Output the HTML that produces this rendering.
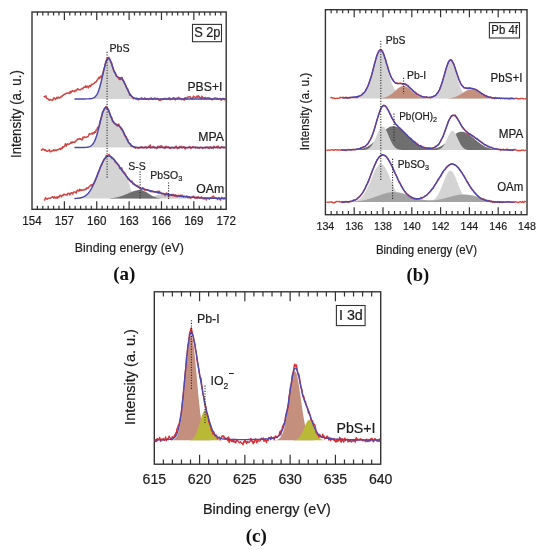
<!DOCTYPE html>
<html><head><meta charset="utf-8"><title>XPS spectra</title>
<style>
html,body{margin:0;padding:0;background:#fff;}
body{width:544px;height:550px;overflow:hidden;font-family:"Liberation Sans",sans-serif;}
svg{display:block;will-change:transform;}
text{-webkit-font-smoothing:antialiased;}
</style></head><body>
<svg width="544" height="550" viewBox="0 0 544 550">
<rect x="32.00" y="12.00" width="194.20" height="197.30" fill="none" stroke="#333333" stroke-width="1.40"/>
<path d="M64.37,12.00V20.00M64.37,209.30V201.30M96.73,12.00V20.00M96.73,209.30V201.30M129.10,12.00V20.00M129.10,209.30V201.30M161.47,12.00V20.00M161.47,209.30V201.30M193.83,12.00V20.00M193.83,209.30V201.30M37.39,12.00V15.60M37.39,209.30V205.70M42.79,12.00V15.60M42.79,209.30V205.70M48.18,12.00V15.60M48.18,209.30V205.70M53.58,12.00V15.60M53.58,209.30V205.70M58.97,12.00V15.60M58.97,209.30V205.70M69.76,12.00V15.60M69.76,209.30V205.70M75.16,12.00V15.60M75.16,209.30V205.70M80.55,12.00V15.60M80.55,209.30V205.70M85.94,12.00V15.60M85.94,209.30V205.70M91.34,12.00V15.60M91.34,209.30V205.70M102.13,12.00V15.60M102.13,209.30V205.70M107.52,12.00V15.60M107.52,209.30V205.70M112.92,12.00V15.60M112.92,209.30V205.70M118.31,12.00V15.60M118.31,209.30V205.70M123.71,12.00V15.60M123.71,209.30V205.70M134.49,12.00V15.60M134.49,209.30V205.70M139.89,12.00V15.60M139.89,209.30V205.70M145.28,12.00V15.60M145.28,209.30V205.70M150.68,12.00V15.60M150.68,209.30V205.70M156.07,12.00V15.60M156.07,209.30V205.70M166.86,12.00V15.60M166.86,209.30V205.70M172.26,12.00V15.60M172.26,209.30V205.70M177.65,12.00V15.60M177.65,209.30V205.70M183.04,12.00V15.60M183.04,209.30V205.70M188.44,12.00V15.60M188.44,209.30V205.70M199.23,12.00V15.60M199.23,209.30V205.70M204.62,12.00V15.60M204.62,209.30V205.70M210.02,12.00V15.60M210.02,209.30V205.70M215.41,12.00V15.60M215.41,209.30V205.70M220.81,12.00V15.60M220.81,209.30V205.70" stroke="#333333" stroke-width="1.20" fill="none"/>
<path d="M91.50,98.90 L91.50,98.57 L92.00,98.46 L92.50,98.32 L93.00,98.14 L93.50,97.92 L94.00,97.65 L94.50,97.31 L95.00,96.89 L95.50,96.39 L96.00,95.80 L96.50,95.09 L97.00,94.26 L97.50,93.30 L98.00,92.20 L98.50,90.95 L99.00,89.55 L99.50,88.00 L100.00,86.29 L100.50,84.45 L101.00,82.48 L101.50,80.39 L102.00,78.22 L102.50,76.00 L103.00,73.75 L103.50,71.51 L104.00,69.33 L104.50,67.25 L105.00,65.30 L105.50,63.53 L106.00,61.98 L106.50,60.69 L107.00,59.67 L107.50,58.94 L108.00,58.53 L108.50,58.43 L109.00,58.64 L109.50,59.13 L110.00,59.89 L110.50,60.89 L111.00,62.07 L111.50,63.41 L112.00,64.85 L112.50,66.35 L113.00,67.86 L113.50,69.34 L114.00,70.74 L114.50,72.04 L115.00,73.20 L115.50,74.23 L116.00,75.09 L116.50,75.80 L117.00,76.36 L117.50,76.79 L118.00,77.10 L118.50,77.34 L119.00,77.52 L119.50,77.67 L120.00,77.83 L120.50,78.02 L121.00,78.28 L121.50,78.62 L122.00,79.05 L122.50,79.59 L123.00,80.25 L123.50,81.01 L124.00,81.88 L124.50,82.84 L125.00,83.87 L125.50,84.96 L126.00,86.09 L126.50,87.23 L127.00,88.37 L127.50,89.49 L128.00,90.57 L128.50,91.60 L129.00,92.56 L129.50,93.45 L130.00,94.26 L130.50,94.98 L131.00,95.63 L131.50,96.19 L132.00,96.68 L132.50,97.10 L133.00,97.46 L133.50,97.75 L134.00,98.00 L134.50,98.20 L135.00,98.36 L135.50,98.48 L136.00,98.59 L136.00,98.90Z" fill="#d4d4d4"/>
<path d="M43.70,97.15 L44.40,96.57 L45.10,96.82 L45.80,95.82 L46.50,98.01 L47.20,98.49 L47.90,98.71 L48.60,99.64 L49.30,100.18 L50.00,99.51 L50.70,99.78 L51.40,99.97 L52.10,100.44 L52.80,100.11 L53.50,98.38 L54.20,97.83 L54.90,98.77 L55.60,99.39 L56.30,98.19 L57.00,97.30 L57.70,98.21 L58.40,97.20 L59.10,97.55 L59.80,98.03 L60.50,97.28 L61.20,96.55 L61.90,96.69 L62.60,95.42 L63.30,95.17 L64.00,94.53 L64.70,94.35 L65.40,93.79 L66.10,93.58 L66.80,93.09 L67.50,93.14 L68.20,92.93 L68.90,92.85 L69.60,93.42 L70.30,91.23 L71.00,92.62 L71.70,91.68 L72.40,90.64 L73.10,91.04 L73.80,91.17 L74.50,91.75 L75.20,90.20 L75.90,90.66 L76.60,90.54 L77.30,89.01 L78.00,88.82 L78.70,89.83 L79.40,89.86 L80.10,89.92 L80.80,89.30 L81.50,88.85 L82.20,88.33 L82.90,88.79 L83.60,87.23 L84.30,87.21 L85.00,87.39 L85.70,85.83 L86.40,87.44 L87.10,86.16 L87.80,86.30 L88.50,87.81 L89.20,85.87 L89.90,85.58 L90.60,86.63 L91.30,84.57 L92.00,84.25 L92.70,84.48 L93.40,83.95 L94.10,83.32 L94.80,82.44 L95.50,82.36 L96.20,81.63 L96.90,80.83 L97.60,79.38 L98.30,78.68 L99.00,77.31 L99.70,78.50 L100.40,76.34 L101.10,76.53 L101.80,77.04 L102.50,74.28 L103.20,72.16 L103.90,69.30 L104.60,67.33 L105.30,63.63 L106.00,61.58 L106.70,59.38 L107.40,58.09 L108.10,58.56 L108.80,57.36 L109.50,58.70 L110.20,60.29 L110.90,62.42 L111.60,62.91 L112.30,66.39 L113.00,68.30 L113.70,70.62 L114.40,71.98 L115.10,72.29 L115.80,74.08 L116.50,76.24 L117.20,76.66 L117.90,77.04 L118.60,78.65 L119.30,79.43 L120.00,78.17 L120.70,79.56 L121.40,77.41 L122.10,77.46 L122.80,80.25 L123.50,80.88 L124.20,82.64 L124.90,84.11 L125.60,85.21 L126.30,87.27 L127.00,88.58 L127.70,88.88 L128.40,91.34 L129.10,92.86 L129.80,95.27 L130.50,94.44 L131.20,95.77 L131.90,96.27 L132.60,97.02 L133.30,98.79 L134.00,98.50 L134.70,98.03 L135.40,98.52 L136.10,99.16 L136.80,98.11 L137.50,98.46 L138.20,99.86 L138.90,99.67 L139.60,99.00 L140.30,98.57 L141.00,98.72 L141.70,97.75 L142.40,99.34 L143.10,99.23 L143.80,99.06 L144.50,98.01 L145.20,98.21 L145.90,99.13 L146.60,99.13 L147.30,98.59 L148.00,99.20 L148.70,99.63 L149.40,98.56 L150.10,98.45 L150.80,98.19 L151.50,97.93 L152.20,99.27 L152.90,99.34 L153.60,99.23 L154.30,98.13 L155.00,98.00 L155.70,98.67 L156.40,98.56 L157.10,98.92 L157.80,98.41 L158.50,99.27 L159.20,100.26 L159.90,100.27 L160.60,100.32 L161.30,99.24 L162.00,99.62 L162.70,98.78 L163.40,99.53 L164.10,98.76 L164.80,98.52 L165.50,98.36 L166.20,99.29 L166.90,99.17 L167.60,99.09 L168.30,98.12 L169.00,98.84 L169.70,97.86 L170.40,99.74 L171.10,98.97 L171.80,99.05 L172.50,98.85 L173.20,97.75 L173.90,97.68 L174.60,98.61 L175.30,99.88 L176.00,98.27 L176.70,98.23 L177.40,98.68 L178.10,97.58 L178.80,97.34 L179.50,98.19 L180.20,98.60 L180.90,98.41 L181.60,99.71 L182.30,98.73 L183.00,98.86 L183.70,99.73 L184.40,99.93 L185.10,97.57 L185.80,97.90 L186.50,99.00 L187.20,97.35 L187.90,97.27 L188.60,96.92 L189.30,96.73 L190.00,96.79 L190.70,97.67 L191.40,98.56 L192.10,98.86 L192.80,97.78 L193.50,96.10 L194.20,97.09 L194.90,97.05 L195.60,97.52 L196.30,97.25 L197.00,96.01 L197.70,97.34 L198.40,95.86 L199.10,96.57 L199.80,97.47 L200.50,97.72 L201.20,98.69 L201.90,96.14 L202.60,97.62 L203.30,98.23 L204.00,97.70 L204.70,98.35 L205.40,97.31 L206.10,98.43 L206.80,98.63 L207.50,97.65 L208.20,97.74 L208.90,98.15 L209.60,97.96 L210.30,99.17 L211.00,98.84 L211.70,99.62 L212.40,99.71 L213.10,98.97 L213.80,98.66 L214.50,98.08 L215.20,98.09 L215.90,98.10 L216.60,98.94 L217.30,98.24 L218.00,98.79 L218.70,98.99 L219.40,98.55 L220.10,98.68 L220.80,99.88 L221.50,100.24 L222.20,98.60 L222.90,98.70 L223.60,98.59 L224.30,98.64 L225.00,99.94 L225.70,99.60" fill="none" stroke="#cc4644" stroke-width="1.50" stroke-linejoin="round"/>
<path d="M75.00,98.90 L75.50,98.90 L76.00,98.90 L76.50,98.90 L77.00,98.90 L77.50,98.90 L78.00,98.90 L78.50,98.90 L79.00,98.90 L79.50,98.90 L80.00,98.90 L80.50,98.90 L81.00,98.90 L81.50,98.90 L82.00,98.90 L82.50,98.90 L83.00,98.90 L83.50,98.90 L84.00,98.90 L84.50,98.90 L85.00,98.90 L85.50,98.89 L86.00,98.89 L86.50,98.89 L87.00,98.88 L87.50,98.87 L88.00,98.86 L88.50,98.85 L89.00,98.83 L89.50,98.80 L90.00,98.76 L90.50,98.72 L91.00,98.65 L91.50,98.57 L92.00,98.46 L92.50,98.32 L93.00,98.14 L93.50,97.92 L94.00,97.65 L94.50,97.31 L95.00,96.89 L95.50,96.39 L96.00,95.80 L96.50,95.09 L97.00,94.26 L97.50,93.30 L98.00,92.20 L98.50,90.95 L99.00,89.55 L99.50,88.00 L100.00,86.29 L100.50,84.45 L101.00,82.48 L101.50,80.39 L102.00,78.22 L102.50,76.00 L103.00,73.75 L103.50,71.51 L104.00,69.33 L104.50,67.25 L105.00,65.30 L105.50,63.53 L106.00,61.98 L106.50,60.69 L107.00,59.67 L107.50,58.94 L108.00,58.53 L108.50,58.43 L109.00,58.64 L109.50,59.13 L110.00,59.89 L110.50,60.89 L111.00,62.07 L111.50,63.41 L112.00,64.85 L112.50,66.35 L113.00,67.86 L113.50,69.34 L114.00,70.74 L114.50,72.04 L115.00,73.20 L115.50,74.23 L116.00,75.09 L116.50,75.80 L117.00,76.36 L117.50,76.79 L118.00,77.10 L118.50,77.34 L119.00,77.52 L119.50,77.67 L120.00,77.83 L120.50,78.02 L121.00,78.28 L121.50,78.62 L122.00,79.05 L122.50,79.59 L123.00,80.25 L123.50,81.01 L124.00,81.88 L124.50,82.84 L125.00,83.87 L125.50,84.96 L126.00,86.09 L126.50,87.23 L127.00,88.37 L127.50,89.49 L128.00,90.57 L128.50,91.60 L129.00,92.56 L129.50,93.45 L130.00,94.26 L130.50,94.98 L131.00,95.63 L131.50,96.19 L132.00,96.68 L132.50,97.10 L133.00,97.46 L133.50,97.75 L134.00,98.00 L134.50,98.20 L135.00,98.36 L135.50,98.48 L136.00,98.59 L136.50,98.66 L137.00,98.72 L137.50,98.77 L138.00,98.81 L138.50,98.83 L139.00,98.85 L139.50,98.87 L140.00,98.88 L140.50,98.88 L141.00,98.89 L141.50,98.89 L142.00,98.89 L142.50,98.90 L143.00,98.90 L143.50,98.90 L144.00,98.90 L144.50,98.90 L145.00,98.90 L145.50,98.90 L146.00,98.90 L146.50,98.90 L147.00,98.90 L147.50,98.90 L148.00,98.90 L148.50,98.90 L149.00,98.90 L149.50,98.90 L150.00,98.90 L150.50,98.90 L151.00,98.90 L151.50,98.90 L152.00,98.90 L152.50,98.90 L153.00,98.90 L153.50,98.90 L154.00,98.90 L154.50,98.90 L155.00,98.90 L155.50,98.90 L156.00,98.90 L156.50,98.90 L157.00,98.90 L157.50,98.90 L158.00,98.90 L158.50,98.90 L159.00,98.90 L159.50,98.90 L160.00,98.90 L160.50,98.90 L161.00,98.90 L161.50,98.90 L162.00,98.90 L162.50,98.90 L163.00,98.90 L163.50,98.90 L164.00,98.90 L164.50,98.90 L165.00,98.90 L165.50,98.90 L166.00,98.90 L166.50,98.90 L167.00,98.90 L167.50,98.90 L168.00,98.90 L168.50,98.90 L169.00,98.90 L169.50,98.90 L170.00,98.90 L170.50,98.90 L171.00,98.90 L171.50,98.90 L172.00,98.90 L172.50,98.90 L173.00,98.90 L173.50,98.90 L174.00,98.90 L174.50,98.90 L175.00,98.90 L175.50,98.90 L176.00,98.90 L176.50,98.90 L177.00,98.90 L177.50,98.90 L178.00,98.90 L178.50,98.90 L179.00,98.90 L179.50,98.90 L180.00,98.90 L180.50,98.90 L181.00,98.90 L181.50,98.90 L182.00,98.90 L182.50,98.90 L183.00,98.90 L183.50,98.90 L184.00,98.90 L184.50,98.90 L185.00,98.90 L185.50,98.90 L186.00,98.90 L186.50,98.90 L187.00,98.90 L187.50,98.90 L188.00,98.90 L188.50,98.90 L189.00,98.90 L189.50,98.90 L190.00,98.90 L190.50,98.90 L191.00,98.90 L191.50,98.90 L192.00,98.90 L192.50,98.90 L193.00,98.90 L193.50,98.90 L194.00,98.90 L194.50,98.90 L195.00,98.90 L195.50,98.90 L196.00,98.90 L196.50,98.90 L197.00,98.90 L197.50,98.90 L198.00,98.90 L198.50,98.90 L199.00,98.90 L199.50,98.90 L200.00,98.90 L200.50,98.90 L201.00,98.90 L201.50,98.90 L202.00,98.90 L202.50,98.90 L203.00,98.90 L203.50,98.90 L204.00,98.90 L204.50,98.90 L205.00,98.90 L205.50,98.90 L206.00,98.90 L206.50,98.90 L207.00,98.90 L207.50,98.90 L208.00,98.90 L208.50,98.90 L209.00,98.90 L209.50,98.90 L210.00,98.90 L210.50,98.90 L211.00,98.90 L211.50,98.90 L212.00,98.90 L212.50,98.90 L213.00,98.90 L213.50,98.90 L214.00,98.90 L214.50,98.90 L215.00,98.90 L215.50,98.90 L216.00,98.90 L216.50,98.90 L217.00,98.90 L217.50,98.90 L218.00,98.90 L218.50,98.90 L219.00,98.90 L219.50,98.90 L220.00,98.90 L220.50,98.90 L221.00,98.90 L221.50,98.90 L222.00,98.90 L222.50,98.90 L223.00,98.90 L223.50,98.90 L224.00,98.90 L224.50,98.90 L225.00,98.90 L225.50,98.90" fill="none" stroke="#4b48aa" stroke-width="1.45" stroke-linejoin="round" stroke-linecap="round"/>
<path d="M88.00,147.50 L88.00,147.11 L88.50,146.99 L89.00,146.85 L89.50,146.67 L90.00,146.45 L90.50,146.18 L91.00,145.85 L91.50,145.46 L92.00,145.00 L92.50,144.44 L93.00,143.80 L93.50,143.05 L94.00,142.20 L94.50,141.22 L95.00,140.12 L95.50,138.89 L96.00,137.53 L96.50,136.04 L97.00,134.42 L97.50,132.69 L98.00,130.85 L98.50,128.92 L99.00,126.93 L99.50,124.88 L100.00,122.82 L100.50,120.76 L101.00,118.75 L101.50,116.81 L102.00,114.98 L102.50,113.28 L103.00,111.76 L103.50,110.44 L104.00,109.34 L104.50,108.48 L105.00,107.87 L105.50,107.53 L106.00,107.44 L106.50,107.61 L107.00,108.02 L107.50,108.65 L108.00,109.47 L108.50,110.46 L109.00,111.58 L109.50,112.79 L110.00,114.07 L110.50,115.37 L111.00,116.66 L111.50,117.90 L112.00,119.08 L112.50,120.17 L113.00,121.15 L113.50,122.01 L114.00,122.75 L114.50,123.36 L115.00,123.87 L115.50,124.27 L116.00,124.60 L116.50,124.85 L117.00,125.07 L117.50,125.27 L118.00,125.47 L118.50,125.70 L119.00,125.97 L119.50,126.31 L120.00,126.73 L120.50,127.23 L121.00,127.82 L121.50,128.50 L122.00,129.28 L122.50,130.13 L123.00,131.06 L123.50,132.05 L124.00,133.08 L124.50,134.14 L125.00,135.22 L125.50,136.30 L126.00,137.36 L126.50,138.40 L127.00,139.39 L127.50,140.33 L128.00,141.22 L128.50,142.03 L129.00,142.78 L129.50,143.46 L130.00,144.07 L130.50,144.61 L131.00,145.09 L131.50,145.50 L132.00,145.86 L132.50,146.16 L133.00,146.42 L133.50,146.63 L134.00,146.81 L134.50,146.96 L135.00,147.07 L135.50,147.17 L135.50,147.50Z" fill="#d4d4d4"/>
<path d="M41.00,149.57 L41.70,150.29 L42.40,149.04 L43.10,149.11 L43.80,149.43 L44.50,150.32 L45.20,149.87 L45.90,150.44 L46.60,151.07 L47.30,151.35 L48.00,151.07 L48.70,150.31 L49.40,149.79 L50.10,151.70 L50.80,151.77 L51.50,150.98 L52.20,150.98 L52.90,150.83 L53.60,149.78 L54.30,150.74 L55.00,150.04 L55.70,150.07 L56.40,150.57 L57.10,149.83 L57.80,149.87 L58.50,149.54 L59.20,148.96 L59.90,148.60 L60.60,149.50 L61.30,147.99 L62.00,148.66 L62.70,146.75 L63.40,147.23 L64.10,146.65 L64.80,145.63 L65.50,143.82 L66.20,146.12 L66.90,144.39 L67.60,143.90 L68.30,144.30 L69.00,144.09 L69.70,143.95 L70.40,143.31 L71.10,142.08 L71.80,143.23 L72.50,141.98 L73.20,142.27 L73.90,142.33 L74.60,142.52 L75.30,141.34 L76.00,140.79 L76.70,140.52 L77.40,139.12 L78.10,139.37 L78.80,139.02 L79.50,138.63 L80.20,139.24 L80.90,138.81 L81.60,139.82 L82.30,139.73 L83.00,137.14 L83.70,137.79 L84.40,136.90 L85.10,137.55 L85.80,137.15 L86.50,137.36 L87.20,136.72 L87.90,136.65 L88.60,135.65 L89.30,133.67 L90.00,133.94 L90.70,133.97 L91.40,133.77 L92.10,132.94 L92.80,134.19 L93.50,132.76 L94.20,133.07 L94.90,131.58 L95.60,132.24 L96.30,129.71 L97.00,129.50 L97.70,127.22 L98.40,127.09 L99.10,126.78 L99.80,122.38 L100.50,119.96 L101.20,118.06 L101.90,115.21 L102.60,111.98 L103.30,111.52 L104.00,109.42 L104.70,108.96 L105.40,107.72 L106.10,106.44 L106.80,107.11 L107.50,109.37 L108.20,109.00 L108.90,110.85 L109.60,113.36 L110.30,115.62 L111.00,117.39 L111.70,117.51 L112.40,121.23 L113.10,121.47 L113.80,122.50 L114.50,123.37 L115.20,123.88 L115.90,123.83 L116.60,124.53 L117.30,126.03 L118.00,124.69 L118.70,123.96 L119.40,126.24 L120.10,127.06 L120.80,128.13 L121.50,129.81 L122.20,129.37 L122.90,130.94 L123.60,132.61 L124.30,134.64 L125.00,136.12 L125.70,136.32 L126.40,137.16 L127.10,139.19 L127.80,139.67 L128.50,142.56 L129.20,142.90 L129.90,143.68 L130.60,144.04 L131.30,146.27 L132.00,146.24 L132.70,146.06 L133.40,146.98 L134.10,146.86 L134.80,147.45 L135.50,148.17 L136.20,147.29 L136.90,147.70 L137.60,147.80 L138.30,148.30 L139.00,148.04 L139.70,147.61 L140.40,147.06 L141.10,147.61 L141.80,146.79 L142.50,147.81 L143.20,147.60 L143.90,147.90 L144.60,147.22 L145.30,146.89 L146.00,146.74 L146.70,148.12 L147.40,147.47 L148.10,147.33 L148.80,146.22 L149.50,147.21 L150.20,145.04 L150.90,147.95 L151.60,147.42 L152.30,147.50 L153.00,146.51 L153.70,146.54 L154.40,147.73 L155.10,147.40 L155.80,147.78 L156.50,148.44 L157.20,148.15 L157.90,146.31 L158.60,146.58 L159.30,146.53 L160.00,146.67 L160.70,145.89 L161.40,145.75 L162.10,146.63 L162.80,146.91 L163.50,147.74 L164.20,147.32 L164.90,148.45 L165.60,146.42 L166.30,146.32 L167.00,147.44 L167.70,147.30 L168.40,146.77 L169.10,147.89 L169.80,148.33 L170.50,148.58 L171.20,147.44 L171.90,147.48 L172.60,147.65 L173.30,147.57 L174.00,148.22 L174.70,147.30 L175.40,147.72 L176.10,146.01 L176.80,147.72 L177.50,148.68 L178.20,147.72 L178.90,148.26 L179.60,146.50 L180.30,147.07 L181.00,146.34 L181.70,147.49 L182.40,147.86 L183.10,146.62 L183.80,146.73 L184.50,146.94 L185.20,149.07 L185.90,147.76 L186.60,147.63 L187.30,147.78 L188.00,147.76 L188.70,147.39 L189.40,146.55 L190.10,146.84 L190.80,148.50 L191.50,147.88 L192.20,147.32 L192.90,146.52 L193.60,147.26 L194.30,147.47 L195.00,147.04 L195.70,148.03 L196.40,147.20 L197.10,147.32 L197.80,148.05 L198.50,147.76 L199.20,148.33 L199.90,147.51 L200.60,147.20 L201.30,147.76 L202.00,147.70 L202.70,148.36 L203.40,147.95 L204.10,147.57 L204.80,147.83 L205.50,148.02 L206.20,146.83 L206.90,147.27 L207.60,147.22 L208.30,148.28 L209.00,147.32 L209.70,148.20 L210.40,146.76 L211.10,147.31 L211.80,148.20 L212.50,147.46 L213.20,148.29 L213.90,146.25 L214.60,147.27 L215.30,147.57 L216.00,147.43 L216.70,146.44 L217.40,147.75 L218.10,145.93 L218.80,147.85 L219.50,147.77 L220.20,148.24 L220.90,147.47 L221.60,146.72 L222.30,146.99 L223.00,147.08 L223.70,147.83 L224.40,147.35 L225.10,147.76" fill="none" stroke="#cc4644" stroke-width="1.50" stroke-linejoin="round"/>
<path d="M75.00,147.50 L75.50,147.50 L76.00,147.50 L76.50,147.50 L77.00,147.50 L77.50,147.50 L78.00,147.50 L78.50,147.50 L79.00,147.50 L79.50,147.50 L80.00,147.50 L80.50,147.50 L81.00,147.50 L81.50,147.49 L82.00,147.49 L82.50,147.49 L83.00,147.48 L83.50,147.47 L84.00,147.46 L84.50,147.45 L85.00,147.43 L85.50,147.40 L86.00,147.37 L86.50,147.33 L87.00,147.27 L87.50,147.20 L88.00,147.11 L88.50,146.99 L89.00,146.85 L89.50,146.67 L90.00,146.45 L90.50,146.18 L91.00,145.85 L91.50,145.46 L92.00,145.00 L92.50,144.44 L93.00,143.80 L93.50,143.05 L94.00,142.20 L94.50,141.22 L95.00,140.12 L95.50,138.89 L96.00,137.53 L96.50,136.04 L97.00,134.42 L97.50,132.69 L98.00,130.85 L98.50,128.92 L99.00,126.93 L99.50,124.88 L100.00,122.82 L100.50,120.76 L101.00,118.75 L101.50,116.81 L102.00,114.98 L102.50,113.28 L103.00,111.76 L103.50,110.44 L104.00,109.34 L104.50,108.48 L105.00,107.87 L105.50,107.53 L106.00,107.44 L106.50,107.61 L107.00,108.02 L107.50,108.65 L108.00,109.47 L108.50,110.46 L109.00,111.58 L109.50,112.79 L110.00,114.07 L110.50,115.37 L111.00,116.66 L111.50,117.90 L112.00,119.08 L112.50,120.17 L113.00,121.15 L113.50,122.01 L114.00,122.75 L114.50,123.36 L115.00,123.87 L115.50,124.27 L116.00,124.60 L116.50,124.85 L117.00,125.07 L117.50,125.27 L118.00,125.47 L118.50,125.70 L119.00,125.97 L119.50,126.31 L120.00,126.73 L120.50,127.23 L121.00,127.82 L121.50,128.50 L122.00,129.28 L122.50,130.13 L123.00,131.06 L123.50,132.05 L124.00,133.08 L124.50,134.14 L125.00,135.22 L125.50,136.30 L126.00,137.36 L126.50,138.40 L127.00,139.39 L127.50,140.33 L128.00,141.22 L128.50,142.03 L129.00,142.78 L129.50,143.46 L130.00,144.07 L130.50,144.61 L131.00,145.09 L131.50,145.50 L132.00,145.86 L132.50,146.16 L133.00,146.42 L133.50,146.63 L134.00,146.81 L134.50,146.96 L135.00,147.07 L135.50,147.17 L136.00,147.25 L136.50,147.31 L137.00,147.35 L137.50,147.39 L138.00,147.42 L138.50,147.44 L139.00,147.46 L139.50,147.47 L140.00,147.48 L140.50,147.48 L141.00,147.49 L141.50,147.49 L142.00,147.49 L142.50,147.50 L143.00,147.50 L143.50,147.50 L144.00,147.50 L144.50,147.50 L145.00,147.50 L145.50,147.50 L146.00,147.50 L146.50,147.50 L147.00,147.50 L147.50,147.50 L148.00,147.50 L148.50,147.50 L149.00,147.50 L149.50,147.50 L150.00,147.50 L150.50,147.50 L151.00,147.50 L151.50,147.50 L152.00,147.50 L152.50,147.50 L153.00,147.50 L153.50,147.50 L154.00,147.50 L154.50,147.50 L155.00,147.50 L155.50,147.50 L156.00,147.50 L156.50,147.50 L157.00,147.50 L157.50,147.50 L158.00,147.50 L158.50,147.50 L159.00,147.50 L159.50,147.50 L160.00,147.50 L160.50,147.50 L161.00,147.50 L161.50,147.50 L162.00,147.50 L162.50,147.50 L163.00,147.50 L163.50,147.50 L164.00,147.50 L164.50,147.50 L165.00,147.50 L165.50,147.50 L166.00,147.50 L166.50,147.50 L167.00,147.50 L167.50,147.50 L168.00,147.50 L168.50,147.50 L169.00,147.50 L169.50,147.50 L170.00,147.50 L170.50,147.50 L171.00,147.50 L171.50,147.50 L172.00,147.50 L172.50,147.50 L173.00,147.50 L173.50,147.50 L174.00,147.50 L174.50,147.50 L175.00,147.50 L175.50,147.50 L176.00,147.50 L176.50,147.50 L177.00,147.50 L177.50,147.50 L178.00,147.50 L178.50,147.50 L179.00,147.50 L179.50,147.50 L180.00,147.50 L180.50,147.50 L181.00,147.50 L181.50,147.50 L182.00,147.50 L182.50,147.50 L183.00,147.50 L183.50,147.50 L184.00,147.50 L184.50,147.50 L185.00,147.50 L185.50,147.50 L186.00,147.50 L186.50,147.50 L187.00,147.50 L187.50,147.50 L188.00,147.50 L188.50,147.50 L189.00,147.50 L189.50,147.50 L190.00,147.50 L190.50,147.50 L191.00,147.50 L191.50,147.50 L192.00,147.50 L192.50,147.50 L193.00,147.50 L193.50,147.50 L194.00,147.50 L194.50,147.50 L195.00,147.50 L195.50,147.50 L196.00,147.50 L196.50,147.50 L197.00,147.50 L197.50,147.50 L198.00,147.50 L198.50,147.50 L199.00,147.50 L199.50,147.50 L200.00,147.50 L200.50,147.50 L201.00,147.50 L201.50,147.50 L202.00,147.50 L202.50,147.50 L203.00,147.50 L203.50,147.50 L204.00,147.50 L204.50,147.50 L205.00,147.50 L205.50,147.50 L206.00,147.50 L206.50,147.50 L207.00,147.50 L207.50,147.50 L208.00,147.50 L208.50,147.50 L209.00,147.50 L209.50,147.50 L210.00,147.50 L210.50,147.50 L211.00,147.50 L211.50,147.50 L212.00,147.50 L212.50,147.50 L213.00,147.50 L213.50,147.50 L214.00,147.50 L214.50,147.50 L215.00,147.50 L215.50,147.50 L216.00,147.50 L216.50,147.50 L217.00,147.50 L217.50,147.50 L218.00,147.50 L218.50,147.50 L219.00,147.50 L219.50,147.50 L220.00,147.50 L220.50,147.50 L221.00,147.50 L221.50,147.50 L222.00,147.50 L222.50,147.50 L223.00,147.50 L223.50,147.50 L224.00,147.50 L224.50,147.50 L225.00,147.50 L225.50,147.50" fill="none" stroke="#4b48aa" stroke-width="1.45" stroke-linejoin="round" stroke-linecap="round"/>
<path d="M76.50,198.60 L76.50,198.27 L77.00,198.22 L77.50,198.16 L78.00,198.09 L78.50,198.01 L79.00,197.92 L79.50,197.82 L80.00,197.71 L80.50,197.58 L81.00,197.44 L81.50,197.28 L82.00,197.11 L82.50,196.91 L83.00,196.69 L83.50,196.45 L84.00,196.19 L84.50,195.90 L85.00,195.58 L85.50,195.23 L86.00,194.84 L86.50,194.43 L87.00,193.97 L87.50,193.49 L88.00,192.96 L88.50,192.39 L89.00,191.78 L89.50,191.13 L90.00,190.43 L90.50,189.69 L91.00,188.91 L91.50,188.08 L92.00,187.20 L92.50,186.29 L93.00,185.33 L93.50,184.32 L94.00,183.28 L94.50,182.19 L95.00,181.07 L95.50,179.92 L96.00,178.74 L96.50,177.53 L97.00,176.30 L97.50,175.05 L98.00,173.79 L98.50,172.52 L99.00,171.25 L99.50,169.98 L100.00,168.73 L100.50,167.49 L101.00,166.27 L101.50,165.08 L102.00,163.93 L102.50,162.82 L103.00,161.77 L103.50,160.76 L104.00,159.82 L104.50,158.95 L105.00,158.15 L105.50,157.43 L106.00,156.79 L106.50,156.24 L107.00,155.79 L107.50,155.42 L108.00,155.16 L108.50,154.99 L109.00,154.92 L109.50,154.95 L110.00,155.09 L110.50,155.32 L111.00,155.65 L111.50,156.07 L112.00,156.58 L112.50,157.18 L113.00,157.86 L113.50,158.61 L114.00,159.43 L114.50,160.30 L115.00,161.22 L115.50,162.16 L116.00,163.12 L116.50,164.07 L117.00,165.00 L117.50,165.89 L118.00,166.72 L118.50,167.46 L119.00,168.11 L119.50,168.66 L120.00,169.09 L120.50,169.40 L121.00,169.62 L121.50,169.77 L122.00,169.86 L122.50,169.94 L123.00,170.06 L123.50,170.25 L124.00,170.57 L124.50,171.04 L125.00,171.71 L125.50,172.58 L126.00,173.66 L126.50,174.95 L127.00,176.42 L127.50,178.03 L128.00,179.75 L128.50,181.53 L129.00,183.31 L129.50,185.05 L130.00,186.72 L130.50,188.28 L131.00,189.71 L131.50,190.99 L132.00,192.13 L132.50,193.11 L133.00,193.96 L133.50,194.68 L134.00,195.28 L134.50,195.79 L135.00,196.21 L135.50,196.56 L136.00,196.86 L136.50,197.10 L137.00,197.31 L137.50,197.49 L138.00,197.64 L138.50,197.77 L139.00,197.88 L139.50,197.98 L140.00,198.06 L140.50,198.13 L141.00,198.20 L141.50,198.25 L141.50,198.60Z" fill="#d4d4d4"/>
<path d="M140.50,198.60 L140.50,198.29 L141.00,198.25 L141.50,198.21 L142.00,198.17 L142.50,198.13 L143.00,198.08 L143.50,198.03 L144.00,197.98 L144.50,197.92 L145.00,197.86 L145.50,197.79 L146.00,197.72 L146.50,197.64 L147.00,197.57 L147.50,197.48 L148.00,197.39 L148.50,197.30 L149.00,197.21 L149.50,197.11 L150.00,197.00 L150.50,196.90 L151.00,196.78 L151.50,196.67 L152.00,196.55 L152.50,196.43 L153.00,196.31 L153.50,196.19 L154.00,196.06 L154.50,195.94 L155.00,195.81 L155.50,195.68 L156.00,195.56 L156.50,195.43 L157.00,195.31 L157.50,195.19 L158.00,195.07 L158.50,194.95 L159.00,194.84 L159.50,194.74 L160.00,194.64 L160.50,194.54 L161.00,194.45 L161.50,194.37 L162.00,194.29 L162.50,194.23 L163.00,194.17 L163.50,194.12 L164.00,194.08 L164.50,194.04 L165.00,194.02 L165.50,194.00 L166.00,194.00 L166.50,194.00 L167.00,194.02 L167.50,194.04 L168.00,194.08 L168.50,194.12 L169.00,194.17 L169.50,194.23 L170.00,194.29 L170.50,194.37 L171.00,194.45 L171.50,194.54 L172.00,194.64 L172.50,194.74 L173.00,194.84 L173.50,194.95 L174.00,195.07 L174.50,195.19 L175.00,195.31 L175.50,195.43 L176.00,195.56 L176.50,195.68 L177.00,195.81 L177.50,195.94 L178.00,196.06 L178.50,196.19 L179.00,196.31 L179.50,196.43 L180.00,196.55 L180.50,196.67 L181.00,196.78 L181.50,196.90 L182.00,197.00 L182.50,197.11 L183.00,197.21 L183.50,197.30 L184.00,197.39 L184.50,197.48 L185.00,197.57 L185.50,197.64 L186.00,197.72 L186.50,197.79 L187.00,197.86 L187.50,197.92 L188.00,197.98 L188.50,198.03 L189.00,198.08 L189.50,198.13 L190.00,198.17 L190.50,198.21 L191.00,198.25 L191.50,198.29 L191.50,198.60Z" fill="#c8c8c8"/>
<path d="M109.50,198.60 L109.50,198.27 L110.00,198.24 L110.50,198.20 L111.00,198.15 L111.50,198.11 L112.00,198.06 L112.50,198.00 L113.00,197.94 L113.50,197.88 L114.00,197.81 L114.50,197.73 L115.00,197.65 L115.50,197.57 L116.00,197.47 L116.50,197.38 L117.00,197.27 L117.50,197.16 L118.00,197.05 L118.50,196.92 L119.00,196.79 L119.50,196.66 L120.00,196.51 L120.50,196.37 L121.00,196.21 L121.50,196.05 L122.00,195.88 L122.50,195.70 L123.00,195.52 L123.50,195.33 L124.00,195.14 L124.50,194.95 L125.00,194.74 L125.50,194.54 L126.00,194.33 L126.50,194.12 L127.00,193.90 L127.50,193.69 L128.00,193.47 L128.50,193.25 L129.00,193.04 L129.50,192.82 L130.00,192.61 L130.50,192.40 L131.00,192.19 L131.50,191.99 L132.00,191.79 L132.50,191.60 L133.00,191.42 L133.50,191.24 L134.00,191.07 L134.50,190.92 L135.00,190.77 L135.50,190.63 L136.00,190.51 L136.50,190.40 L137.00,190.30 L137.50,190.21 L138.00,190.14 L138.50,190.09 L139.00,190.04 L139.50,190.01 L140.00,190.00 L140.50,190.01 L141.00,190.04 L141.50,190.11 L142.00,190.21 L142.50,190.35 L143.00,190.51 L143.50,190.70 L144.00,190.92 L144.50,191.16 L145.00,191.42 L145.50,191.69 L146.00,191.99 L146.50,192.29 L147.00,192.61 L147.50,192.93 L148.00,193.25 L148.50,193.58 L149.00,193.90 L149.50,194.22 L150.00,194.54 L150.50,194.85 L151.00,195.14 L151.50,195.43 L152.00,195.70 L152.50,195.96 L153.00,196.21 L153.50,196.44 L154.00,196.66 L154.50,196.86 L155.00,197.05 L155.50,197.22 L156.00,197.38 L156.50,197.52 L157.00,197.65 L157.50,197.77 L158.00,197.88 L158.50,197.97 L159.00,198.06 L159.50,198.13 L160.00,198.20 L160.50,198.26 L160.50,198.60Z" fill="#6e6e6e"/>
<path d="M44.00,199.52 L44.70,200.08 L45.40,197.86 L46.10,198.36 L46.80,199.09 L47.50,199.15 L48.20,198.24 L48.90,198.16 L49.60,198.17 L50.30,198.20 L51.00,197.61 L51.70,197.31 L52.40,196.80 L53.10,197.05 L53.80,198.13 L54.50,196.68 L55.20,197.52 L55.90,198.22 L56.60,197.11 L57.30,198.19 L58.00,196.65 L58.70,197.42 L59.40,196.34 L60.10,195.24 L60.80,195.90 L61.50,196.91 L62.20,195.34 L62.90,195.59 L63.60,194.53 L64.30,194.25 L65.00,194.94 L65.70,194.52 L66.40,194.79 L67.10,195.15 L67.80,193.45 L68.50,193.27 L69.20,193.55 L69.90,194.94 L70.60,193.31 L71.30,192.72 L72.00,193.04 L72.70,194.04 L73.40,192.31 L74.10,191.99 L74.80,191.99 L75.50,192.29 L76.20,193.13 L76.90,190.89 L77.60,190.01 L78.30,190.88 L79.00,191.15 L79.70,189.23 L80.40,189.76 L81.10,190.74 L81.80,189.81 L82.50,190.13 L83.20,189.84 L83.90,189.94 L84.60,189.66 L85.30,189.26 L86.00,189.52 L86.70,188.10 L87.40,187.97 L88.10,188.32 L88.80,186.98 L89.50,186.55 L90.20,185.80 L90.90,184.81 L91.60,185.91 L92.30,184.50 L93.00,184.64 L93.70,183.39 L94.40,181.99 L95.10,180.50 L95.80,179.29 L96.50,177.30 L97.20,176.08 L97.90,173.20 L98.60,171.84 L99.30,170.32 L100.00,168.15 L100.70,166.36 L101.40,165.23 L102.10,163.80 L102.80,161.97 L103.50,160.66 L104.20,159.12 L104.90,158.72 L105.60,157.43 L106.30,155.53 L107.00,155.38 L107.70,155.54 L108.40,155.20 L109.10,154.48 L109.80,155.77 L110.50,156.44 L111.20,157.13 L111.90,158.43 L112.60,158.04 L113.30,159.18 L114.00,159.47 L114.70,161.02 L115.40,162.14 L116.10,162.65 L116.80,163.67 L117.50,163.61 L118.20,165.31 L118.90,165.23 L119.60,168.20 L120.30,168.90 L121.00,168.06 L121.70,167.92 L122.40,171.26 L123.10,171.28 L123.80,172.96 L124.50,172.84 L125.20,174.46 L125.90,175.05 L126.60,176.71 L127.30,177.13 L128.00,179.10 L128.70,178.69 L129.40,180.60 L130.10,180.75 L130.80,181.72 L131.50,181.09 L132.20,181.40 L132.90,183.81 L133.60,183.26 L134.30,184.18 L135.00,184.78 L135.70,184.90 L136.40,186.00 L137.10,185.48 L137.80,185.82 L138.50,187.55 L139.20,187.01 L139.90,188.15 L140.60,188.54 L141.30,189.38 L142.00,189.03 L142.70,187.64 L143.40,188.30 L144.10,188.75 L144.80,190.07 L145.50,189.90 L146.20,189.46 L146.90,190.12 L147.60,189.87 L148.30,190.55 L149.00,190.57 L149.70,191.33 L150.40,191.11 L151.10,191.64 L151.80,191.21 L152.50,191.74 L153.20,191.41 L153.90,192.00 L154.60,191.97 L155.30,191.87 L156.00,191.78 L156.70,191.99 L157.40,192.65 L158.10,191.08 L158.80,193.22 L159.50,191.39 L160.20,192.58 L160.90,192.84 L161.60,193.72 L162.30,193.67 L163.00,193.59 L163.70,193.77 L164.40,194.47 L165.10,195.64 L165.80,194.68 L166.50,192.98 L167.20,193.82 L167.90,194.63 L168.60,196.79 L169.30,194.63 L170.00,194.55 L170.70,195.23 L171.40,195.29 L172.10,194.30 L172.80,195.68 L173.50,194.54 L174.20,195.08 L174.90,196.31 L175.60,194.89 L176.30,195.32 L177.00,196.80 L177.70,195.89 L178.40,195.26 L179.10,195.50 L179.80,196.55 L180.50,195.23 L181.20,195.65 L181.90,195.25 L182.60,195.42 L183.30,197.12 L184.00,196.62 L184.70,196.34 L185.40,196.90 L186.10,196.32 L186.80,195.93 L187.50,197.45 L188.20,197.63 L188.90,196.57 L189.60,197.43 L190.30,198.15 L191.00,197.70 L191.70,197.66 L192.40,196.54 L193.10,197.09 L193.80,196.10 L194.50,197.90 L195.20,197.46 L195.90,198.39 L196.60,197.23 L197.30,198.12 L198.00,196.71 L198.70,197.24 L199.40,198.01 L200.10,198.07 L200.80,197.83 L201.50,196.77 L202.20,198.55 L202.90,198.49 L203.60,198.82 L204.30,198.91 L205.00,197.95 L205.70,198.29 L206.40,199.88 L207.10,197.91 L207.80,198.36 L208.50,197.83 L209.20,199.28 L209.90,198.54 L210.60,197.60 L211.30,197.72 L212.00,197.23 L212.70,196.56 L213.40,196.16 L214.10,197.41 L214.80,197.40 L215.50,198.27 L216.20,197.80 L216.90,198.42 L217.60,199.58 L218.30,197.86 L219.00,197.51 L219.70,198.90 L220.40,200.10 L221.10,198.20 L221.80,197.29 L222.50,198.04 L223.20,198.13 L223.90,198.89 L224.60,197.87 L225.30,198.20" fill="none" stroke="#cc4644" stroke-width="1.50" stroke-linejoin="round"/>
<path d="M75.00,198.44 L75.50,198.41 L76.00,198.38 L76.50,198.35 L77.00,198.31 L77.50,198.27 L78.00,198.21 L78.50,198.15 L79.00,198.09 L79.50,198.01 L80.00,197.92 L80.50,197.81 L81.00,197.70 L81.50,197.56 L82.00,197.41 L82.50,197.24 L83.00,197.05 L83.50,196.83 L84.00,196.59 L84.50,196.32 L85.00,196.03 L85.50,195.69 L86.00,195.33 L86.50,194.92 L87.00,194.48 L87.50,194.00 L88.00,193.47 L88.50,192.90 L89.00,192.28 L89.50,191.61 L90.00,190.89 L90.50,190.12 L91.00,189.29 L91.50,188.42 L92.00,187.50 L92.50,186.52 L93.00,185.50 L93.50,184.43 L94.00,183.32 L94.50,182.16 L95.00,180.97 L95.50,179.74 L96.00,178.49 L96.50,177.21 L97.00,175.92 L97.50,174.61 L98.00,173.30 L98.50,171.99 L99.00,170.69 L99.50,169.41 L100.00,168.15 L100.50,166.92 L101.00,165.73 L101.50,164.59 L102.00,163.50 L102.50,162.46 L103.00,161.49 L103.50,160.59 L104.00,159.77 L104.50,159.02 L105.00,158.35 L105.50,157.77 L106.00,157.27 L106.50,156.86 L107.00,156.53 L107.50,156.29 L108.00,156.13 L108.50,156.06 L109.00,156.06 L109.50,156.14 L110.00,156.29 L110.50,156.51 L111.00,156.79 L111.50,157.12 L112.00,157.52 L112.50,157.95 L113.00,158.44 L113.50,158.96 L114.00,159.51 L114.50,160.09 L115.00,160.70 L115.50,161.32 L116.00,161.97 L116.50,162.62 L117.00,163.29 L117.50,163.97 L118.00,164.66 L118.50,165.34 L119.00,166.04 L119.50,166.73 L120.00,167.43 L120.50,168.12 L121.00,168.82 L121.50,169.51 L122.00,170.20 L122.50,170.89 L123.00,171.58 L123.50,172.26 L124.00,172.94 L124.50,173.62 L125.00,174.29 L125.50,174.95 L126.00,175.61 L126.50,176.25 L127.00,176.89 L127.50,177.52 L128.00,178.14 L128.50,178.75 L129.00,179.34 L129.50,179.91 L130.00,180.47 L130.50,181.02 L131.00,181.55 L131.50,182.05 L132.00,182.54 L132.50,183.01 L133.00,183.46 L133.50,183.89 L134.00,184.30 L134.50,184.69 L135.00,185.06 L135.50,185.41 L136.00,185.74 L136.50,186.05 L137.00,186.34 L137.50,186.62 L138.00,186.88 L138.50,187.13 L139.00,187.36 L139.50,187.58 L140.00,187.79 L140.50,187.98 L141.00,188.17 L141.50,188.34 L142.00,188.51 L142.50,188.67 L143.00,188.82 L143.50,188.97 L144.00,189.12 L144.50,189.26 L145.00,189.39 L145.50,189.52 L146.00,189.65 L146.50,189.78 L147.00,189.91 L147.50,190.03 L148.00,190.16 L148.50,190.28 L149.00,190.40 L149.50,190.52 L150.00,190.64 L150.50,190.76 L151.00,190.88 L151.50,191.00 L152.00,191.12 L152.50,191.24 L153.00,191.36 L153.50,191.48 L154.00,191.60 L154.50,191.71 L155.00,191.83 L155.50,191.95 L156.00,192.06 L156.50,192.18 L157.00,192.29 L157.50,192.40 L158.00,192.52 L158.50,192.63 L159.00,192.74 L159.50,192.85 L160.00,192.95 L160.50,193.06 L161.00,193.16 L161.50,193.27 L162.00,193.37 L162.50,193.47 L163.00,193.57 L163.50,193.67 L164.00,193.76 L164.50,193.86 L165.00,193.95 L165.50,194.04 L166.00,194.13 L166.50,194.22 L167.00,194.31 L167.50,194.40 L168.00,194.48 L168.50,194.56 L169.00,194.64 L169.50,194.72 L170.00,194.80 L170.50,194.88 L171.00,194.96 L171.50,195.03 L172.00,195.10 L172.50,195.18 L173.00,195.25 L173.50,195.32 L174.00,195.38 L174.50,195.45 L175.00,195.52 L175.50,195.58 L176.00,195.65 L176.50,195.71 L177.00,195.77 L177.50,195.83 L178.00,195.89 L178.50,195.95 L179.00,196.01 L179.50,196.07 L180.00,196.12 L180.50,196.18 L181.00,196.23 L181.50,196.29 L182.00,196.34 L182.50,196.39 L183.00,196.44 L183.50,196.49 L184.00,196.54 L184.50,196.59 L185.00,196.64 L185.50,196.69 L186.00,196.73 L186.50,196.78 L187.00,196.83 L187.50,196.87 L188.00,196.91 L188.50,196.96 L189.00,197.00 L189.50,197.04 L190.00,197.08 L190.50,197.12 L191.00,197.16 L191.50,197.20 L192.00,197.24 L192.50,197.28 L193.00,197.32 L193.50,197.35 L194.00,197.39 L194.50,197.43 L195.00,197.46 L195.50,197.50 L196.00,197.53 L196.50,197.56 L197.00,197.59 L197.50,197.62 L198.00,197.66 L198.50,197.69 L199.00,197.71 L199.50,197.74 L200.00,197.77 L200.50,197.80 L201.00,197.83 L201.50,197.85 L202.00,197.88 L202.50,197.90 L203.00,197.93 L203.50,197.95 L204.00,197.97 L204.50,198.00 L205.00,198.02 L205.50,198.04 L206.00,198.06 L206.50,198.08 L207.00,198.10 L207.50,198.12 L208.00,198.14 L208.50,198.16 L209.00,198.17 L209.50,198.19 L210.00,198.21 L210.50,198.22 L211.00,198.24 L211.50,198.25 L212.00,198.27 L212.50,198.28 L213.00,198.30 L213.50,198.31 L214.00,198.32 L214.50,198.33 L215.00,198.35 L215.50,198.36 L216.00,198.37 L216.50,198.38 L217.00,198.39 L217.50,198.40 L218.00,198.41 L218.50,198.42 L219.00,198.42 L219.50,198.43 L220.00,198.44 L220.50,198.45 L221.00,198.46 L221.50,198.46 L222.00,198.47 L222.50,198.48 L223.00,198.48 L223.50,198.49 L224.00,198.49 L224.50,198.50 L225.00,198.50 L225.50,198.51" fill="none" stroke="#4b48aa" stroke-width="1.45" stroke-linejoin="round" stroke-linecap="round"/>
<path d="M107.10,51.80V178.20" stroke="#2a2a2a" stroke-width="1.10" stroke-dasharray="1.1,1.5" fill="none"/>
<path d="M140.10,171.30V199.00" stroke="#2a2a2a" stroke-width="1.10" stroke-dasharray="1.1,1.5" fill="none"/>
<path d="M168.60,182.50V199.00" stroke="#2a2a2a" stroke-width="1.10" stroke-dasharray="1.1,1.5" fill="none"/>
<text transform="translate(109.40,51.90) scale(1,1.045)" font-size="10.70" text-anchor="start" font-family="Liberation Sans, sans-serif" fill="#1a1a1a" stroke="#1a1a1a" stroke-width="0.18">PbS</text>
<text transform="translate(222.40,90.80) scale(1,1.045)" font-size="12.20" text-anchor="end" font-family="Liberation Sans, sans-serif" fill="#1a1a1a" stroke="#1a1a1a" stroke-width="0.18">PBS+I</text>
<text transform="translate(224.00,141.10) scale(1,1.045)" font-size="12.30" text-anchor="end" font-family="Liberation Sans, sans-serif" fill="#1a1a1a" stroke="#1a1a1a" stroke-width="0.18">MPA</text>
<text transform="translate(224.30,192.80) scale(1,1.045)" font-size="12.30" text-anchor="end" font-family="Liberation Sans, sans-serif" fill="#1a1a1a" stroke="#1a1a1a" stroke-width="0.18">OAm</text>
<text transform="translate(128.20,169.60) scale(1,1.045)" font-size="10.50" text-anchor="start" font-family="Liberation Sans, sans-serif" fill="#1a1a1a" stroke="#1a1a1a" stroke-width="0.18">S-S</text>
<text transform="translate(150.20,178.50) scale(1,1.045)" font-size="10.50" text-anchor="start" font-family="Liberation Sans, sans-serif" fill="#1a1a1a" stroke="#1a1a1a" stroke-width="0.18">PbSO<tspan font-size="7.4" dy="2.4">3</tspan></text>
<rect x="192.5" y="24.4" width="29" height="17.3" fill="none" stroke="#333333" stroke-width="1.1"/>
<text transform="translate(207.30,37.10) scale(1,1.080)" font-size="12.80" text-anchor="middle" font-family="Liberation Sans, sans-serif" fill="#1a1a1a" stroke="#1a1a1a" stroke-width="0.18">S 2p</text>
<text transform="translate(32.00,225.10) scale(1,1.045)" font-size="11.60" text-anchor="middle" font-family="Liberation Sans, sans-serif" fill="#1a1a1a" stroke="#1a1a1a" stroke-width="0.18">154</text>
<text transform="translate(64.37,225.10) scale(1,1.045)" font-size="11.60" text-anchor="middle" font-family="Liberation Sans, sans-serif" fill="#1a1a1a" stroke="#1a1a1a" stroke-width="0.18">157</text>
<text transform="translate(96.73,225.10) scale(1,1.045)" font-size="11.60" text-anchor="middle" font-family="Liberation Sans, sans-serif" fill="#1a1a1a" stroke="#1a1a1a" stroke-width="0.18">160</text>
<text transform="translate(129.10,225.10) scale(1,1.045)" font-size="11.60" text-anchor="middle" font-family="Liberation Sans, sans-serif" fill="#1a1a1a" stroke="#1a1a1a" stroke-width="0.18">163</text>
<text transform="translate(161.47,225.10) scale(1,1.045)" font-size="11.60" text-anchor="middle" font-family="Liberation Sans, sans-serif" fill="#1a1a1a" stroke="#1a1a1a" stroke-width="0.18">166</text>
<text transform="translate(193.83,225.10) scale(1,1.045)" font-size="11.60" text-anchor="middle" font-family="Liberation Sans, sans-serif" fill="#1a1a1a" stroke="#1a1a1a" stroke-width="0.18">169</text>
<text transform="translate(226.20,225.10) scale(1,1.045)" font-size="11.60" text-anchor="middle" font-family="Liberation Sans, sans-serif" fill="#1a1a1a" stroke="#1a1a1a" stroke-width="0.18">172</text>
<text transform="translate(129.40,252.00) scale(1,1.045)" font-size="12.35" text-anchor="middle" font-family="Liberation Sans, sans-serif" fill="#1a1a1a" stroke="#1a1a1a" stroke-width="0.18">Binding energy (eV)</text>
<text transform="translate(21.20,114.10) rotate(-90) scale(1,1.045)" font-size="13.30" text-anchor="middle" font-family="Liberation Sans, sans-serif" fill="#1a1a1a" stroke="#1a1a1a" stroke-width="0.18">Intensity (a. u.)</text>
<text x="124.3" y="279.6" font-size="19" font-weight="bold" text-anchor="middle" font-family="Liberation Serif, serif" fill="#111">(a)</text>
<rect x="325.40" y="9.70" width="201.60" height="205.00" fill="none" stroke="#333333" stroke-width="1.40"/>
<path d="M354.20,9.70V17.20M354.20,214.70V207.20M383.00,9.70V17.20M383.00,214.70V207.20M411.80,9.70V17.20M411.80,214.70V207.20M440.60,9.70V17.20M440.60,214.70V207.20M469.40,9.70V17.20M469.40,214.70V207.20M498.20,9.70V17.20M498.20,214.70V207.20M331.16,9.70V13.30M331.16,214.70V211.10M336.92,9.70V13.30M336.92,214.70V211.10M342.68,9.70V13.30M342.68,214.70V211.10M348.44,9.70V13.30M348.44,214.70V211.10M359.96,9.70V13.30M359.96,214.70V211.10M365.72,9.70V13.30M365.72,214.70V211.10M371.48,9.70V13.30M371.48,214.70V211.10M377.24,9.70V13.30M377.24,214.70V211.10M388.76,9.70V13.30M388.76,214.70V211.10M394.52,9.70V13.30M394.52,214.70V211.10M400.28,9.70V13.30M400.28,214.70V211.10M406.04,9.70V13.30M406.04,214.70V211.10M417.56,9.70V13.30M417.56,214.70V211.10M423.32,9.70V13.30M423.32,214.70V211.10M429.08,9.70V13.30M429.08,214.70V211.10M434.84,9.70V13.30M434.84,214.70V211.10M446.36,9.70V13.30M446.36,214.70V211.10M452.12,9.70V13.30M452.12,214.70V211.10M457.88,9.70V13.30M457.88,214.70V211.10M463.64,9.70V13.30M463.64,214.70V211.10M475.16,9.70V13.30M475.16,214.70V211.10M480.92,9.70V13.30M480.92,214.70V211.10M486.68,9.70V13.30M486.68,214.70V211.10M492.44,9.70V13.30M492.44,214.70V211.10M503.96,9.70V13.30M503.96,214.70V211.10M509.72,9.70V13.30M509.72,214.70V211.10M515.48,9.70V13.30M515.48,214.70V211.10M521.24,9.70V13.30M521.24,214.70V211.10" stroke="#333333" stroke-width="1.20" fill="none"/>
<path d="M325.40,98.60 L325.40,98.23 L325.90,98.23 L326.40,98.22 L326.90,98.21 L327.40,98.21 L327.90,98.20 L328.40,98.19 L328.90,98.18 L329.40,98.18 L329.90,98.17 L330.40,98.16 L330.90,98.15 L331.40,98.14 L331.90,98.13 L332.40,98.13 L332.90,98.12 L333.40,98.11 L333.90,98.10 L334.40,98.09 L334.90,98.08 L335.40,98.06 L335.90,98.05 L336.40,98.04 L336.90,98.03 L337.40,98.02 L337.90,98.00 L338.40,97.99 L338.90,97.98 L339.40,97.96 L339.90,97.95 L340.40,97.93 L340.90,97.92 L341.40,97.90 L341.90,97.88 L342.40,97.87 L342.90,97.85 L343.40,97.83 L343.90,97.81 L344.40,97.79 L344.90,97.77 L345.40,97.74 L345.90,97.72 L346.40,97.70 L346.90,97.67 L347.40,97.65 L347.90,97.62 L348.40,97.59 L348.90,97.56 L349.40,97.53 L349.90,97.49 L350.40,97.46 L350.90,97.42 L351.40,97.38 L351.90,97.34 L352.40,97.29 L352.90,97.24 L353.40,97.19 L353.90,97.13 L354.40,97.07 L354.90,97.01 L355.40,96.93 L355.90,96.85 L356.40,96.76 L356.90,96.66 L357.40,96.54 L357.90,96.42 L358.40,96.27 L358.90,96.11 L359.40,95.93 L359.90,95.73 L360.40,95.50 L360.90,95.24 L361.40,94.94 L361.90,94.61 L362.40,94.23 L362.90,93.81 L363.40,93.34 L363.90,92.81 L364.40,92.23 L364.90,91.57 L365.40,90.85 L365.90,90.05 L366.40,89.18 L366.90,88.22 L367.40,87.18 L367.90,86.05 L368.40,84.83 L368.90,83.52 L369.40,82.13 L369.90,80.65 L370.40,79.08 L370.90,77.44 L371.40,75.73 L371.90,73.96 L372.40,72.13 L372.90,70.26 L373.40,68.36 L373.90,66.45 L374.40,64.55 L374.90,62.66 L375.40,60.82 L375.90,59.05 L376.40,57.37 L376.90,55.80 L377.40,54.37 L377.90,53.11 L378.40,52.04 L378.90,51.18 L379.40,50.55 L379.90,50.17 L380.40,50.04 L380.90,50.16 L381.40,50.55 L381.90,51.17 L382.40,52.03 L382.90,53.10 L383.40,54.36 L383.90,55.79 L384.40,57.35 L384.90,59.03 L385.40,60.80 L385.90,62.64 L386.40,64.52 L386.90,66.43 L387.40,68.34 L387.90,70.23 L388.40,72.10 L388.90,73.93 L389.40,75.70 L389.90,77.41 L390.40,79.05 L390.90,80.61 L391.40,82.09 L391.90,83.48 L392.40,84.78 L392.90,86.00 L393.40,87.13 L393.90,88.17 L394.40,89.12 L394.90,90.00 L395.40,90.79 L395.90,91.51 L396.40,92.16 L396.90,92.75 L397.40,93.27 L397.90,93.74 L398.40,94.16 L398.90,94.53 L399.40,94.86 L399.90,95.16 L400.40,95.41 L400.90,95.64 L401.40,95.84 L401.90,96.02 L402.40,96.18 L402.90,96.32 L403.40,96.44 L403.90,96.55 L404.40,96.65 L404.90,96.74 L405.40,96.82 L405.90,96.89 L406.40,96.95 L406.90,97.01 L407.40,97.06 L407.90,97.11 L408.40,97.15 L408.90,97.19 L409.40,97.23 L409.90,97.27 L410.40,97.30 L410.90,97.33 L411.40,97.36 L411.90,97.39 L412.40,97.41 L412.90,97.43 L413.40,97.46 L413.90,97.48 L414.40,97.49 L414.90,97.51 L415.40,97.53 L415.90,97.54 L416.40,97.56 L416.90,97.57 L417.40,97.58 L417.90,97.59 L418.40,97.60 L418.90,97.61 L419.40,97.62 L419.90,97.63 L420.40,97.63 L420.90,97.64 L421.40,97.64 L421.90,97.64 L422.40,97.64 L422.90,97.64 L423.40,97.64 L423.90,97.64 L424.40,97.63 L424.90,97.63 L425.40,97.62 L425.90,97.61 L426.40,97.59 L426.90,97.58 L427.40,97.56 L427.90,97.53 L428.40,97.50 L428.90,97.47 L429.40,97.42 L429.90,97.37 L430.40,97.30 L430.90,97.22 L431.40,97.13 L431.90,97.01 L432.40,96.87 L432.90,96.71 L433.40,96.51 L433.90,96.28 L434.40,96.01 L434.90,95.69 L435.40,95.32 L435.90,94.89 L436.40,94.39 L436.90,93.82 L437.40,93.17 L437.90,92.44 L438.40,91.62 L438.90,90.71 L439.40,89.70 L439.90,88.59 L440.40,87.38 L440.90,86.07 L441.40,84.66 L441.90,83.17 L442.40,81.59 L442.90,79.95 L443.40,78.24 L443.90,76.50 L444.40,74.73 L444.90,72.96 L445.40,71.20 L445.90,69.49 L446.40,67.86 L446.90,66.31 L447.40,64.89 L447.90,63.63 L448.40,62.54 L448.90,61.65 L449.40,60.99 L449.90,60.56 L450.40,60.39 L450.90,60.47 L451.40,60.80 L451.90,61.38 L452.40,62.18 L452.90,63.20 L453.40,64.40 L453.90,65.77 L454.40,67.27 L454.90,68.88 L455.40,70.57 L455.90,72.32 L456.40,74.09 L456.90,75.87 L457.40,77.63 L457.90,79.36 L458.40,81.04 L458.90,82.65 L459.40,84.19 L459.90,85.63 L460.40,86.99 L460.90,88.25 L461.40,89.40 L461.90,90.46 L462.40,91.42 L462.90,92.29 L463.40,93.06 L463.90,93.75 L464.40,94.35 L464.90,94.89 L465.40,95.35 L465.90,95.75 L466.40,96.10 L466.90,96.40 L467.40,96.65 L467.90,96.87 L468.40,97.06 L468.90,97.21 L469.40,97.35 L469.90,97.46 L470.40,97.55 L470.90,97.63 L471.40,97.70 L471.90,97.76 L472.40,97.81 L472.90,97.85 L473.40,97.89 L473.90,97.92 L474.40,97.95 L474.90,97.98 L475.40,98.00 L475.90,98.03 L476.40,98.05 L476.90,98.06 L477.40,98.08 L477.90,98.10 L478.40,98.11 L478.90,98.12 L479.40,98.14 L479.90,98.15 L480.40,98.16 L480.90,98.17 L481.40,98.18 L481.90,98.19 L482.40,98.20 L482.90,98.21 L483.40,98.22 L483.90,98.23 L484.40,98.24 L484.90,98.25 L485.40,98.26 L485.90,98.26 L486.40,98.27 L486.90,98.28 L487.40,98.29 L487.90,98.29 L488.40,98.30 L488.40,98.60Z" fill="#d4d4d4"/>
<path d="M380.40,98.60 L380.40,98.29 L380.90,98.23 L381.40,98.17 L381.90,98.10 L382.40,98.02 L382.90,97.93 L383.40,97.83 L383.90,97.72 L384.40,97.59 L384.90,97.45 L385.40,97.29 L385.90,97.12 L386.40,96.93 L386.90,96.73 L387.40,96.50 L387.90,96.26 L388.40,96.00 L388.90,95.72 L389.40,95.42 L389.90,95.10 L390.40,94.76 L390.90,94.40 L391.40,94.03 L391.90,93.63 L392.40,93.23 L392.90,92.81 L393.40,92.38 L393.90,91.94 L394.40,91.50 L394.90,91.05 L395.40,90.60 L395.90,90.15 L396.40,89.71 L396.90,89.28 L397.40,88.86 L397.90,88.46 L398.40,88.08 L398.90,87.72 L399.40,87.38 L399.90,87.08 L400.40,86.81 L400.90,86.58 L401.40,86.38 L401.90,86.22 L402.40,86.11 L402.90,86.03 L403.40,86.00 L403.90,86.01 L404.40,86.07 L404.90,86.17 L405.40,86.31 L405.90,86.49 L406.40,86.71 L406.90,86.97 L407.40,87.26 L407.90,87.58 L408.40,87.93 L408.90,88.30 L409.40,88.70 L409.90,89.11 L410.40,89.54 L410.90,89.97 L411.40,90.42 L411.90,90.87 L412.40,91.32 L412.90,91.76 L413.40,92.21 L413.90,92.64 L414.40,93.06 L414.90,93.47 L415.40,93.87 L415.90,94.25 L416.40,94.62 L416.90,94.96 L417.40,95.29 L417.90,95.60 L418.40,95.89 L418.90,96.16 L419.40,96.41 L419.90,96.64 L420.40,96.85 L420.90,97.05 L421.40,97.23 L421.90,97.39 L422.40,97.54 L422.90,97.67 L423.40,97.79 L423.90,97.89 L424.40,97.99 L424.90,98.07 L425.40,98.14 L425.90,98.21 L426.40,98.27 L426.90,98.32 L427.40,98.36 L427.90,98.40 L428.40,98.43 L428.90,98.45 L429.40,98.48 L429.90,98.50 L430.40,98.52 L430.90,98.53 L431.40,98.54 L431.90,98.55 L432.40,98.56 L432.90,98.57 L433.40,98.57 L433.90,98.58 L434.40,98.58 L434.90,98.58 L435.40,98.59 L435.90,98.59 L436.40,98.59 L436.90,98.59 L437.40,98.59 L437.90,98.59 L438.40,98.59 L438.90,98.59 L439.40,98.59 L439.90,98.58 L440.40,98.58 L440.90,98.58 L441.40,98.57 L441.90,98.57 L442.40,98.56 L442.90,98.55 L443.40,98.54 L443.90,98.53 L444.40,98.52 L444.90,98.50 L445.40,98.49 L445.90,98.46 L446.40,98.44 L446.90,98.41 L447.40,98.38 L447.90,98.34 L448.40,98.30 L448.90,98.26 L449.40,98.20 L449.90,98.14 L450.40,98.08 L450.90,98.00 L451.40,97.92 L451.90,97.82 L452.40,97.72 L452.90,97.60 L453.40,97.48 L453.90,97.34 L454.40,97.19 L454.90,97.03 L455.40,96.86 L455.90,96.67 L456.40,96.47 L456.90,96.25 L457.40,96.02 L457.90,95.78 L458.40,95.53 L458.90,95.26 L459.40,94.99 L459.90,94.70 L460.40,94.40 L460.90,94.10 L461.40,93.79 L461.90,93.47 L462.40,93.15 L462.90,92.83 L463.40,92.51 L463.90,92.19 L464.40,91.88 L464.90,91.58 L465.40,91.29 L465.90,91.00 L466.40,90.74 L466.90,90.49 L467.40,90.26 L467.90,90.05 L468.40,89.86 L468.90,89.70 L469.40,89.56 L469.90,89.45 L470.40,89.37 L470.90,89.32 L471.40,89.30 L471.90,89.31 L472.40,89.35 L472.90,89.42 L473.40,89.51 L473.90,89.64 L474.40,89.79 L474.90,89.97 L475.40,90.17 L475.90,90.39 L476.40,90.64 L476.90,90.90 L477.40,91.17 L477.90,91.46 L478.40,91.76 L478.90,92.07 L479.40,92.38 L479.90,92.70 L480.40,93.02 L480.90,93.34 L481.40,93.66 L481.90,93.97 L482.40,94.28 L482.90,94.58 L483.40,94.87 L483.90,95.15 L484.40,95.42 L484.90,95.68 L485.40,95.93 L485.90,96.16 L486.40,96.38 L486.90,96.59 L487.40,96.78 L487.90,96.96 L488.40,97.13 L488.90,97.28 L489.40,97.43 L489.90,97.55 L490.40,97.67 L490.90,97.78 L491.40,97.88 L491.90,97.97 L492.40,98.05 L492.90,98.12 L493.40,98.18 L493.90,98.24 L494.40,98.29 L494.40,98.60Z" fill="#c4907d"/>
<path d="M330.40,98.06 L331.10,97.59 L331.80,97.45 L332.50,98.06 L333.20,98.27 L333.90,97.88 L334.60,98.54 L335.30,98.51 L336.00,98.34 L336.70,98.32 L337.40,98.22 L338.10,98.30 L338.80,98.36 L339.50,98.09 L340.20,97.29 L340.90,97.67 L341.60,97.54 L342.30,97.36 L343.00,97.89 L343.70,97.23 L344.40,97.89 L345.10,97.57 L345.80,97.26 L346.50,97.26 L347.20,98.30 L347.90,98.30 L348.60,97.68 L349.30,97.92 L350.00,98.19 L350.70,97.35 L351.40,97.26 L352.10,97.59 L352.80,97.47 L353.50,97.12 L354.20,97.62 L354.90,97.33 L355.60,97.26 L356.30,97.68 L357.00,97.07 L357.70,97.48 L358.40,96.68 L359.10,96.11 L359.80,95.83 L360.50,95.76 L361.20,95.37 L361.90,94.82 L362.60,93.64 L363.30,92.94 L364.00,92.46 L364.70,92.01 L365.40,91.38 L366.10,89.06 L366.80,88.17 L367.50,86.72 L368.20,85.21 L368.90,83.55 L369.60,81.26 L370.30,78.86 L371.00,77.27 L371.70,74.96 L372.40,72.06 L373.10,69.42 L373.80,66.55 L374.50,63.57 L375.20,61.55 L375.90,58.77 L376.60,56.19 L377.30,54.19 L378.00,53.18 L378.70,51.59 L379.40,50.48 L380.10,49.87 L380.80,50.07 L381.50,50.54 L382.20,50.77 L382.90,52.24 L383.60,53.82 L384.30,56.03 L385.00,58.17 L385.70,59.81 L386.40,63.03 L387.10,65.36 L387.80,67.02 L388.50,70.02 L389.20,72.03 L389.90,74.08 L390.60,75.75 L391.30,77.36 L392.00,78.54 L392.70,79.28 L393.40,80.50 L394.10,81.65 L394.80,82.34 L395.50,83.05 L396.20,83.21 L396.90,82.66 L397.60,83.56 L398.30,83.34 L399.00,83.10 L399.70,83.35 L400.40,83.06 L401.10,83.55 L401.80,83.29 L402.50,84.22 L403.20,83.85 L403.90,83.77 L404.60,83.89 L405.30,83.64 L406.00,84.27 L406.70,84.80 L407.40,85.45 L408.10,85.40 L408.80,86.55 L409.50,87.75 L410.20,87.98 L410.90,88.64 L411.60,89.47 L412.30,89.77 L413.00,90.45 L413.70,91.56 L414.40,92.07 L415.10,92.16 L415.80,92.39 L416.50,94.18 L417.20,94.43 L417.90,94.13 L418.60,94.91 L419.30,95.56 L420.00,95.79 L420.70,95.39 L421.40,96.68 L422.10,96.81 L422.80,96.70 L423.50,97.07 L424.20,96.97 L424.90,96.97 L425.60,97.44 L426.30,96.66 L427.00,97.45 L427.70,97.50 L428.40,97.63 L429.10,97.71 L429.80,97.91 L430.50,97.88 L431.20,97.60 L431.90,96.98 L432.60,97.01 L433.30,96.44 L434.00,95.87 L434.70,95.86 L435.40,95.45 L436.10,95.13 L436.80,93.36 L437.50,93.06 L438.20,92.19 L438.90,90.82 L439.60,89.79 L440.30,87.49 L441.00,85.86 L441.70,83.66 L442.40,81.53 L443.10,78.90 L443.80,76.65 L444.50,74.49 L445.20,71.91 L445.90,69.52 L446.60,66.86 L447.30,65.44 L448.00,63.06 L448.70,61.65 L449.40,60.80 L450.10,59.99 L450.80,60.12 L451.50,60.35 L452.20,61.62 L452.90,62.59 L453.60,64.02 L454.30,65.41 L455.00,67.73 L455.70,70.14 L456.40,72.22 L457.10,73.92 L457.80,76.02 L458.50,78.11 L459.20,80.06 L459.90,81.28 L460.60,83.68 L461.30,84.56 L462.00,85.55 L462.70,86.20 L463.40,86.93 L464.10,88.10 L464.80,87.71 L465.50,87.87 L466.20,87.82 L466.90,87.99 L467.60,88.74 L468.30,88.24 L469.00,88.14 L469.70,87.66 L470.40,88.02 L471.10,88.36 L471.80,88.30 L472.50,88.41 L473.20,88.97 L473.90,89.21 L474.60,89.27 L475.30,89.29 L476.00,89.31 L476.70,90.64 L477.40,90.26 L478.10,91.19 L478.80,91.50 L479.50,91.74 L480.20,92.68 L480.90,92.75 L481.60,93.75 L482.30,93.60 L483.00,94.36 L483.70,95.13 L484.40,94.89 L485.10,96.08 L485.80,96.26 L486.50,95.52 L487.20,96.68 L487.90,97.38 L488.60,97.03 L489.30,97.09 L490.00,97.42 L490.70,96.88 L491.40,97.50 L492.10,98.02 L492.80,97.76 L493.50,98.29 L494.20,98.86 L494.90,97.70 L495.60,97.44 L496.30,97.76 L497.00,98.32 L497.70,98.43 L498.40,98.05 L499.10,97.88 L499.80,97.98 L500.50,98.82 L501.20,98.20 L501.90,98.15 L502.60,98.65 L503.30,98.40 L504.00,98.09 L504.70,98.80 L505.40,98.66 L506.10,98.28 L506.80,98.27 L507.50,98.70 L508.20,98.41 L508.90,98.53 L509.60,98.78 L510.30,98.89 L511.00,97.99 L511.70,98.17 L512.40,98.27 L513.10,98.45 L513.80,98.73 L514.50,98.94 L515.20,98.47 L515.90,98.12 L516.60,98.45 L517.30,98.28 L518.00,99.01 L518.70,98.77 L519.40,98.60 L520.10,98.86 L520.80,98.40 L521.50,98.36 L522.20,98.41 L522.90,98.70 L523.60,99.00 L524.30,98.92 L525.00,98.89 L525.70,98.56 L526.40,98.66" fill="none" stroke="#d9423c" stroke-width="1.30" stroke-linejoin="round"/>
<path d="M343.00,97.84 L343.50,97.82 L344.00,97.80 L344.50,97.78 L345.00,97.76 L345.50,97.74 L346.00,97.72 L346.50,97.69 L347.00,97.67 L347.50,97.64 L348.00,97.61 L348.50,97.58 L349.00,97.55 L349.50,97.52 L350.00,97.49 L350.50,97.45 L351.00,97.41 L351.50,97.37 L352.00,97.33 L352.50,97.28 L353.00,97.23 L353.50,97.18 L354.00,97.12 L354.50,97.06 L355.00,96.99 L355.50,96.92 L356.00,96.83 L356.50,96.74 L357.00,96.64 L357.50,96.52 L358.00,96.39 L358.50,96.24 L359.00,96.08 L359.50,95.89 L360.00,95.68 L360.50,95.45 L361.00,95.18 L361.50,94.88 L362.00,94.54 L362.50,94.15 L363.00,93.72 L363.50,93.24 L364.00,92.70 L364.50,92.10 L365.00,91.43 L365.50,90.70 L366.00,89.88 L366.50,88.99 L367.00,88.02 L367.50,86.96 L368.00,85.81 L368.50,84.57 L369.00,83.25 L369.50,81.83 L370.00,80.34 L370.50,78.76 L371.00,77.10 L371.50,75.37 L372.00,73.58 L372.50,71.74 L373.00,69.86 L373.50,67.96 L374.00,66.04 L374.50,64.13 L375.00,62.24 L375.50,60.41 L376.00,58.64 L376.50,56.96 L377.00,55.40 L377.50,53.99 L378.00,52.74 L378.50,51.68 L379.00,50.84 L379.50,50.22 L380.00,49.84 L380.50,49.72 L381.00,49.84 L381.50,50.21 L382.00,50.81 L382.50,51.63 L383.00,52.65 L383.50,53.84 L384.00,55.18 L384.50,56.64 L385.00,58.20 L385.50,59.83 L386.00,61.50 L386.50,63.20 L387.00,64.90 L387.50,66.58 L388.00,68.22 L388.50,69.81 L389.00,71.35 L389.50,72.80 L390.00,74.17 L390.50,75.45 L391.00,76.64 L391.50,77.72 L392.00,78.70 L392.50,79.58 L393.00,80.36 L393.50,81.03 L394.00,81.62 L394.50,82.11 L395.00,82.52 L395.50,82.85 L396.00,83.11 L396.50,83.31 L397.00,83.45 L397.50,83.55 L398.00,83.61 L398.50,83.64 L399.00,83.65 L399.50,83.64 L400.00,83.63 L400.50,83.62 L401.00,83.62 L401.50,83.62 L402.00,83.65 L402.50,83.70 L403.00,83.77 L403.50,83.86 L404.00,83.99 L404.50,84.15 L405.00,84.35 L405.50,84.57 L406.00,84.83 L406.50,85.12 L407.00,85.44 L407.50,85.79 L408.00,86.17 L408.50,86.56 L409.00,86.98 L409.50,87.42 L410.00,87.87 L410.50,88.33 L411.00,88.80 L411.50,89.27 L412.00,89.75 L412.50,90.22 L413.00,90.69 L413.50,91.15 L414.00,91.60 L414.50,92.04 L415.00,92.47 L415.50,92.88 L416.00,93.27 L416.50,93.65 L417.00,94.00 L417.50,94.34 L418.00,94.65 L418.50,94.95 L419.00,95.22 L419.50,95.48 L420.00,95.71 L420.50,95.93 L421.00,96.12 L421.50,96.30 L422.00,96.46 L422.50,96.61 L423.00,96.74 L423.50,96.85 L424.00,96.95 L424.50,97.04 L425.00,97.11 L425.50,97.17 L426.00,97.23 L426.50,97.27 L427.00,97.30 L427.50,97.32 L428.00,97.33 L428.50,97.33 L429.00,97.32 L429.50,97.29 L430.00,97.26 L430.50,97.20 L431.00,97.14 L431.50,97.05 L432.00,96.94 L432.50,96.80 L433.00,96.64 L433.50,96.44 L434.00,96.21 L434.50,95.93 L435.00,95.61 L435.50,95.22 L436.00,94.78 L436.50,94.27 L437.00,93.69 L437.50,93.03 L438.00,92.28 L438.50,91.44 L439.00,90.50 L439.50,89.47 L440.00,88.34 L440.50,87.10 L441.00,85.77 L441.50,84.34 L442.00,82.82 L442.50,81.23 L443.00,79.56 L443.50,77.84 L444.00,76.08 L444.50,74.29 L445.00,72.50 L445.50,70.74 L446.00,69.02 L446.50,67.37 L447.00,65.83 L447.50,64.40 L448.00,63.13 L448.50,62.04 L449.00,61.15 L449.50,60.48 L450.00,60.04 L450.50,59.85 L451.00,59.90 L451.50,60.19 L452.00,60.72 L452.50,61.47 L453.00,62.41 L453.50,63.52 L454.00,64.77 L454.50,66.15 L455.00,67.61 L455.50,69.14 L456.00,70.70 L456.50,72.27 L457.00,73.83 L457.50,75.36 L458.00,76.84 L458.50,78.24 L459.00,79.57 L459.50,80.81 L460.00,81.95 L460.50,82.99 L461.00,83.92 L461.50,84.75 L462.00,85.47 L462.50,86.09 L463.00,86.61 L463.50,87.05 L464.00,87.41 L464.50,87.69 L465.00,87.90 L465.50,88.06 L466.00,88.18 L466.50,88.25 L467.00,88.29 L467.50,88.31 L468.00,88.32 L468.50,88.32 L469.00,88.31 L469.50,88.31 L470.00,88.31 L470.50,88.33 L471.00,88.36 L471.50,88.41 L472.00,88.49 L472.50,88.58 L473.00,88.70 L473.50,88.84 L474.00,89.00 L474.50,89.18 L475.00,89.39 L475.50,89.62 L476.00,89.87 L476.50,90.14 L477.00,90.42 L477.50,90.71 L478.00,91.02 L478.50,91.34 L479.00,91.66 L479.50,91.99 L480.00,92.32 L480.50,92.65 L481.00,92.98 L481.50,93.31 L482.00,93.63 L482.50,93.95 L483.00,94.26 L483.50,94.56 L484.00,94.84 L484.50,95.12 L485.00,95.38 L485.50,95.63 L486.00,95.87 L486.50,96.10 L487.00,96.31 L487.50,96.51 L488.00,96.69 L488.50,96.86 L489.00,97.02 L489.50,97.16 L490.00,97.30 L490.50,97.42 L491.00,97.53 L491.50,97.63 L492.00,97.72 L492.50,97.80 L493.00,97.88 L493.50,97.94 L494.00,98.00 L494.50,98.05 L495.00,98.10 L495.50,98.14 L496.00,98.18 L496.50,98.21 L497.00,98.24 L497.50,98.27 L498.00,98.29 L498.50,98.31 L499.00,98.32 L499.50,98.34 L500.00,98.35 L500.50,98.36 L501.00,98.37 L501.50,98.38 L502.00,98.39 L502.50,98.40 L503.00,98.40 L503.50,98.41 L504.00,98.41 L504.50,98.42 L505.00,98.42 L505.50,98.42 L506.00,98.43 L506.50,98.43 L507.00,98.43 L507.50,98.44 L508.00,98.44 L508.50,98.44 L509.00,98.44 L509.50,98.45 L510.00,98.45 L510.50,98.45 L511.00,98.45 L511.50,98.45 L512.00,98.46 L512.50,98.46 L513.00,98.46 L513.50,98.46 L514.00,98.46" fill="none" stroke="#4b45b0" stroke-width="1.40" stroke-linejoin="round" stroke-linecap="round"/>
<path d="M354.90,150.10 L354.90,149.77 L355.40,149.74 L355.90,149.69 L356.40,149.65 L356.90,149.59 L357.40,149.54 L357.90,149.48 L358.40,149.41 L358.90,149.33 L359.40,149.25 L359.90,149.17 L360.40,149.07 L360.90,148.97 L361.40,148.85 L361.90,148.73 L362.40,148.60 L362.90,148.46 L363.40,148.31 L363.90,148.15 L364.40,147.97 L364.90,147.79 L365.40,147.59 L365.90,147.38 L366.40,147.15 L366.90,146.91 L367.40,146.66 L367.90,146.39 L368.40,146.11 L368.90,145.81 L369.40,145.50 L369.90,145.17 L370.40,144.83 L370.90,144.47 L371.40,144.09 L371.90,143.70 L372.40,143.29 L372.90,142.87 L373.40,142.43 L373.90,141.98 L374.40,141.51 L374.90,141.03 L375.40,140.54 L375.90,140.04 L376.40,139.52 L376.90,139.00 L377.40,138.47 L377.90,137.93 L378.40,137.38 L378.90,136.83 L379.40,136.27 L379.90,135.72 L380.40,135.16 L380.90,134.60 L381.40,134.05 L381.90,133.50 L382.40,132.96 L382.90,132.43 L383.40,131.90 L383.90,131.39 L384.40,130.90 L384.90,130.42 L385.40,129.95 L385.90,129.51 L386.40,129.09 L386.90,128.69 L387.40,128.32 L387.90,127.97 L388.40,127.65 L388.90,127.36 L389.40,127.10 L389.90,126.87 L390.40,126.67 L390.90,126.51 L391.40,126.38 L391.90,126.29 L392.40,126.23 L392.90,126.20 L393.40,126.21 L393.90,126.24 L394.40,126.30 L394.90,126.39 L395.40,126.50 L395.90,126.64 L396.40,126.81 L396.90,126.99 L397.40,127.21 L397.90,127.44 L398.40,127.70 L398.90,127.98 L399.40,128.28 L399.90,128.60 L400.40,128.94 L400.90,129.30 L401.40,129.67 L401.90,130.06 L402.40,130.46 L402.90,130.88 L403.40,131.31 L403.90,131.75 L404.40,132.19 L404.90,132.65 L405.40,133.12 L405.90,133.59 L406.40,134.06 L406.90,134.54 L407.40,135.02 L407.90,135.51 L408.40,135.99 L408.90,136.47 L409.40,136.95 L409.90,137.43 L410.40,137.90 L410.90,138.37 L411.40,138.84 L411.90,139.29 L412.40,139.74 L412.90,140.18 L413.40,140.62 L413.90,141.04 L414.40,141.46 L414.90,141.86 L415.40,142.26 L415.90,142.64 L416.40,143.01 L416.90,143.37 L417.40,143.72 L417.90,144.06 L418.40,144.39 L418.90,144.70 L419.40,145.00 L419.90,145.29 L420.40,145.56 L420.90,145.83 L421.40,146.08 L421.90,146.32 L422.40,146.54 L422.90,146.76 L423.40,146.96 L423.90,147.15 L424.40,147.33 L424.90,147.49 L425.40,147.65 L425.90,147.79 L426.40,147.92 L426.90,148.04 L427.40,148.15 L427.90,148.25 L428.40,148.33 L428.90,148.41 L429.40,148.47 L429.90,148.52 L430.40,148.56 L430.90,148.58 L431.40,148.60 L431.90,148.60 L432.40,148.59 L432.90,148.57 L433.40,148.53 L433.90,148.49 L434.40,148.42 L434.90,148.35 L435.40,148.26 L435.90,148.16 L436.40,148.04 L436.90,147.90 L437.40,147.75 L437.90,147.59 L438.40,147.41 L438.90,147.21 L439.40,147.00 L439.90,146.77 L440.40,146.52 L440.90,146.26 L441.40,145.97 L441.90,145.68 L442.40,145.36 L442.90,145.03 L443.40,144.68 L443.90,144.32 L444.40,143.94 L444.90,143.55 L445.40,143.14 L445.90,142.72 L446.40,142.29 L446.90,141.84 L447.40,141.39 L447.90,140.93 L448.40,140.46 L448.90,139.98 L449.40,139.50 L449.90,139.02 L450.40,138.54 L450.90,138.05 L451.40,137.58 L451.90,137.10 L452.40,136.64 L452.90,136.18 L453.40,135.73 L453.90,135.30 L454.40,134.89 L454.90,134.49 L455.40,134.11 L455.90,133.75 L456.40,133.42 L456.90,133.11 L457.40,132.83 L457.90,132.58 L458.40,132.35 L458.90,132.16 L459.40,132.00 L459.90,131.88 L460.40,131.78 L460.90,131.72 L461.40,131.70 L461.90,131.71 L462.40,131.74 L462.90,131.81 L463.40,131.90 L463.90,132.01 L464.40,132.15 L464.90,132.32 L465.40,132.51 L465.90,132.72 L466.40,132.96 L466.90,133.22 L467.40,133.50 L467.90,133.80 L468.40,134.12 L468.90,134.45 L469.40,134.80 L469.90,135.17 L470.40,135.54 L470.90,135.93 L471.40,136.33 L471.90,136.74 L472.40,137.15 L472.90,137.57 L473.40,138.00 L473.90,138.43 L474.40,138.85 L474.90,139.28 L475.40,139.71 L475.90,140.14 L476.40,140.56 L476.90,140.98 L477.40,141.39 L477.90,141.80 L478.40,142.20 L478.90,142.59 L479.40,142.97 L479.90,143.34 L480.40,143.70 L480.90,144.06 L481.40,144.40 L481.90,144.73 L482.40,145.05 L482.90,145.35 L483.40,145.65 L483.90,145.93 L484.40,146.20 L484.90,146.46 L485.40,146.70 L485.90,146.94 L486.40,147.16 L486.90,147.37 L487.40,147.57 L487.90,147.76 L488.40,147.94 L488.90,148.10 L489.40,148.26 L489.90,148.41 L490.40,148.55 L490.90,148.67 L491.40,148.79 L491.90,148.90 L492.40,149.01 L492.90,149.10 L493.40,149.19 L493.90,149.28 L494.40,149.35 L494.90,149.42 L495.40,149.49 L495.90,149.54 L496.40,149.60 L496.90,149.65 L497.40,149.69 L497.90,149.73 L498.40,149.77 L498.40,150.10Z" fill="#6f6f6f"/>
<path d="M364.90,150.10 L364.90,149.79 L365.40,149.71 L365.90,149.61 L366.40,149.48 L366.90,149.33 L367.40,149.14 L367.90,148.92 L368.40,148.66 L368.90,148.35 L369.40,147.99 L369.90,147.58 L370.40,147.10 L370.90,146.56 L371.40,145.95 L371.90,145.27 L372.40,144.51 L372.90,143.68 L373.40,142.79 L373.90,141.82 L374.40,140.79 L374.90,139.70 L375.40,138.56 L375.90,137.39 L376.40,136.20 L376.90,135.01 L377.40,133.82 L377.90,132.66 L378.40,131.55 L378.90,130.50 L379.40,129.54 L379.90,128.68 L380.40,127.94 L380.90,127.33 L381.40,126.87 L381.90,126.56 L382.40,126.41 L382.90,126.43 L383.40,126.61 L383.90,126.95 L384.40,127.44 L384.90,128.08 L385.40,128.85 L385.90,129.73 L386.40,130.71 L386.90,131.77 L387.40,132.89 L387.90,134.06 L388.40,135.25 L388.90,136.44 L389.40,137.63 L389.90,138.79 L390.40,139.92 L390.90,141.00 L391.40,142.02 L391.90,142.97 L392.40,143.86 L392.90,144.67 L393.40,145.41 L393.90,146.08 L394.40,146.67 L394.90,147.20 L395.40,147.67 L395.90,148.07 L396.40,148.42 L396.90,148.72 L397.40,148.97 L397.90,149.18 L398.40,149.36 L398.90,149.51 L399.40,149.63 L399.90,149.73 L400.40,149.81 L400.90,149.87 L401.40,149.93 L401.90,149.97 L402.40,150.00 L402.90,150.02 L403.40,150.04 L403.90,150.06 L404.40,150.07 L404.90,150.08 L405.40,150.08 L405.90,150.09 L406.40,150.09 L406.90,150.09 L407.40,150.10 L407.90,150.10 L408.40,150.10 L408.90,150.10 L409.40,150.10 L409.90,150.10 L410.40,150.10 L410.90,150.10 L411.40,150.10 L411.90,150.10 L412.40,150.10 L412.90,150.10 L413.40,150.10 L413.90,150.10 L414.40,150.10 L414.90,150.10 L415.40,150.10 L415.90,150.10 L416.40,150.10 L416.90,150.10 L417.40,150.10 L417.90,150.10 L418.40,150.10 L418.90,150.10 L419.40,150.10 L419.90,150.10 L420.40,150.10 L420.90,150.10 L421.40,150.10 L421.90,150.10 L422.40,150.10 L422.90,150.10 L423.40,150.10 L423.90,150.10 L424.40,150.10 L424.90,150.10 L425.40,150.10 L425.90,150.10 L426.40,150.10 L426.90,150.10 L427.40,150.10 L427.90,150.10 L428.40,150.10 L428.90,150.10 L429.40,150.10 L429.90,150.10 L430.40,150.10 L430.90,150.10 L431.40,150.09 L431.90,150.09 L432.40,150.09 L432.90,150.08 L433.40,150.08 L433.90,150.07 L434.40,150.06 L434.90,150.04 L435.40,150.01 L435.90,149.98 L436.40,149.94 L436.90,149.89 L437.40,149.82 L437.90,149.73 L438.40,149.61 L438.90,149.47 L439.40,149.30 L439.90,149.08 L440.40,148.82 L440.90,148.51 L441.40,148.13 L441.90,147.70 L442.40,147.19 L442.90,146.61 L443.40,145.95 L443.90,145.21 L444.40,144.39 L444.90,143.50 L445.40,142.54 L445.90,141.52 L446.40,140.45 L446.90,139.35 L447.40,138.23 L447.90,137.12 L448.40,136.03 L448.90,134.99 L449.40,134.03 L449.90,133.16 L450.40,132.40 L450.90,131.79 L451.40,131.32 L451.90,131.03 L452.40,130.90 L452.90,130.96 L453.40,131.19 L453.90,131.58 L454.40,132.14 L454.90,132.84 L455.40,133.67 L455.90,134.60 L456.40,135.61 L456.90,136.68 L457.40,137.78 L457.90,138.90 L458.40,140.01 L458.90,141.10 L459.40,142.14 L459.90,143.12 L460.40,144.05 L460.90,144.89 L461.40,145.66 L461.90,146.35 L462.40,146.97 L462.90,147.50 L463.40,147.97 L463.90,148.36 L464.40,148.70 L464.90,148.98 L465.40,149.22 L465.90,149.41 L466.40,149.56 L466.90,149.68 L467.40,149.78 L467.40,150.10Z" fill="#d4d4d4"/>
<path d="M326.40,150.00 L327.10,150.44 L327.80,149.98 L328.50,150.02 L329.20,150.14 L329.90,150.35 L330.60,149.92 L331.30,149.95 L332.00,149.76 L332.70,149.53 L333.40,150.26 L334.10,150.27 L334.80,149.63 L335.50,149.60 L336.20,150.10 L336.90,149.86 L337.60,149.64 L338.30,150.33 L339.00,149.96 L339.70,149.89 L340.40,150.17 L341.10,149.83 L341.80,149.96 L342.50,150.04 L343.20,150.25 L343.90,149.81 L344.60,150.28 L345.30,150.16 L346.00,150.59 L346.70,150.19 L347.40,149.81 L348.10,149.67 L348.80,149.42 L349.50,149.69 L350.20,149.73 L350.90,150.03 L351.60,149.82 L352.30,149.41 L353.00,149.87 L353.70,149.48 L354.40,149.54 L355.10,149.89 L355.80,149.87 L356.50,149.13 L357.20,149.03 L357.90,149.39 L358.60,149.28 L359.30,148.98 L360.00,148.88 L360.70,147.69 L361.40,147.78 L362.10,147.24 L362.80,147.12 L363.50,146.92 L364.20,146.85 L364.90,146.73 L365.60,146.18 L366.30,145.41 L367.00,144.46 L367.70,144.13 L368.40,143.03 L369.10,141.26 L369.80,140.42 L370.50,139.39 L371.20,137.50 L371.90,136.13 L372.60,134.83 L373.30,132.43 L374.00,130.26 L374.70,128.01 L375.40,125.37 L376.10,123.04 L376.80,120.46 L377.50,118.24 L378.20,115.78 L378.90,114.10 L379.60,111.85 L380.30,110.27 L381.00,108.08 L381.70,107.04 L382.40,106.38 L383.10,105.92 L383.80,105.29 L384.50,105.46 L385.20,105.97 L385.90,106.54 L386.60,107.41 L387.30,108.83 L388.00,109.61 L388.70,110.62 L389.40,112.37 L390.10,114.16 L390.80,114.84 L391.50,117.20 L392.20,118.41 L392.90,119.78 L393.60,120.52 L394.30,121.74 L395.00,123.41 L395.70,124.55 L396.40,125.07 L397.10,125.48 L397.80,126.17 L398.50,127.35 L399.20,127.51 L399.90,127.96 L400.60,128.82 L401.30,129.88 L402.00,130.01 L402.70,130.99 L403.40,131.76 L404.10,132.39 L404.80,132.97 L405.50,133.99 L406.20,134.66 L406.90,134.68 L407.60,136.20 L408.30,136.76 L409.00,137.36 L409.70,137.80 L410.40,138.42 L411.10,138.33 L411.80,139.51 L412.50,140.58 L413.20,141.33 L413.90,141.53 L414.60,141.43 L415.30,142.18 L416.00,143.03 L416.70,144.16 L417.40,143.86 L418.10,144.61 L418.80,145.31 L419.50,145.80 L420.20,145.95 L420.90,145.34 L421.60,146.48 L422.30,146.86 L423.00,147.28 L423.70,147.06 L424.40,147.29 L425.10,148.13 L425.80,147.96 L426.50,148.02 L427.20,147.86 L427.90,148.52 L428.60,147.78 L429.30,147.94 L430.00,148.29 L430.70,148.21 L431.40,148.43 L432.10,148.26 L432.80,148.44 L433.50,147.79 L434.20,147.44 L434.90,147.24 L435.60,146.21 L436.30,146.63 L437.00,145.57 L437.70,145.46 L438.40,144.97 L439.10,144.03 L439.80,142.74 L440.50,141.24 L441.20,139.35 L441.90,138.65 L442.60,137.04 L443.30,135.99 L444.00,133.73 L444.70,132.01 L445.40,129.78 L446.10,128.01 L446.80,125.85 L447.50,123.95 L448.20,121.57 L448.90,120.11 L449.60,118.87 L450.30,118.13 L451.00,116.92 L451.70,115.58 L452.40,115.83 L453.10,115.41 L453.80,115.64 L454.50,115.32 L455.20,114.86 L455.90,116.12 L456.60,117.09 L457.30,118.57 L458.00,119.22 L458.70,120.47 L459.40,121.54 L460.10,123.20 L460.80,124.15 L461.50,125.97 L462.20,127.04 L462.90,128.05 L463.60,128.60 L464.30,129.48 L465.00,130.46 L465.70,130.65 L466.40,131.83 L467.10,132.13 L467.80,133.04 L468.50,134.00 L469.20,134.40 L469.90,133.97 L470.60,134.94 L471.30,135.05 L472.00,135.38 L472.70,135.88 L473.40,136.06 L474.10,136.94 L474.80,137.24 L475.50,138.30 L476.20,138.72 L476.90,138.23 L477.60,138.99 L478.30,139.57 L479.00,140.21 L479.70,140.77 L480.40,141.58 L481.10,142.05 L481.80,142.22 L482.50,143.11 L483.20,143.85 L483.90,144.08 L484.60,144.84 L485.30,145.10 L486.00,145.12 L486.70,145.44 L487.40,145.91 L488.10,146.46 L488.80,146.73 L489.50,147.28 L490.20,147.69 L490.90,147.28 L491.60,147.27 L492.30,147.77 L493.00,148.25 L493.70,148.68 L494.40,148.84 L495.10,148.99 L495.80,148.62 L496.50,149.04 L497.20,148.90 L497.90,149.29 L498.60,149.64 L499.30,149.28 L500.00,149.37 L500.70,150.34 L501.40,149.61 L502.10,149.51 L502.80,149.32 L503.50,149.18 L504.20,149.97 L504.90,149.68 L505.60,149.63 L506.30,149.58 L507.00,148.91 L507.70,149.90 L508.40,149.78 L509.10,149.92 L509.80,150.44 L510.50,150.10 L511.20,150.10 L511.90,150.12 L512.60,150.49 L513.30,149.74 L514.00,149.78 L514.70,149.26 L515.40,149.83 L516.10,150.21 L516.80,149.98 L517.50,150.71 L518.20,150.60 L518.90,150.89 L519.60,150.39 L520.30,150.78 L521.00,150.13 L521.70,150.25 L522.40,150.19 L523.10,149.99 L523.80,150.62 L524.50,150.70 L525.20,150.06 L525.90,150.33" fill="none" stroke="#d9423c" stroke-width="1.30" stroke-linejoin="round"/>
<path d="M341.50,149.99 L342.00,149.99 L342.50,149.98 L343.00,149.97 L343.50,149.97 L344.00,149.96 L344.50,149.95 L345.00,149.94 L345.50,149.93 L346.00,149.92 L346.50,149.91 L347.00,149.89 L347.50,149.88 L348.00,149.86 L348.50,149.84 L349.00,149.83 L349.50,149.80 L350.00,149.78 L350.50,149.76 L351.00,149.73 L351.50,149.70 L352.00,149.66 L352.50,149.63 L353.00,149.59 L353.50,149.55 L354.00,149.50 L354.50,149.45 L355.00,149.39 L355.50,149.33 L356.00,149.27 L356.50,149.19 L357.00,149.12 L357.50,149.03 L358.00,148.94 L358.50,148.84 L359.00,148.73 L359.50,148.61 L360.00,148.48 L360.50,148.34 L361.00,148.19 L361.50,148.02 L362.00,147.83 L362.50,147.63 L363.00,147.41 L363.50,147.16 L364.00,146.89 L364.50,146.58 L365.00,146.25 L365.50,145.88 L366.00,145.47 L366.50,145.02 L367.00,144.52 L367.50,143.97 L368.00,143.36 L368.50,142.69 L369.00,141.95 L369.50,141.14 L370.00,140.25 L370.50,139.29 L371.00,138.24 L371.50,137.12 L372.00,135.91 L372.50,134.62 L373.00,133.25 L373.50,131.80 L374.00,130.28 L374.50,128.70 L375.00,127.06 L375.50,125.38 L376.00,123.66 L376.50,121.93 L377.00,120.20 L377.50,118.48 L378.00,116.80 L378.50,115.17 L379.00,113.61 L379.50,112.14 L380.00,110.77 L380.50,109.54 L381.00,108.45 L381.50,107.51 L382.00,106.74 L382.50,106.15 L383.00,105.74 L383.50,105.51 L384.00,105.45 L384.50,105.56 L385.00,105.84 L385.50,106.25 L386.00,106.81 L386.50,107.47 L387.00,108.24 L387.50,109.09 L388.00,110.00 L388.50,110.97 L389.00,111.97 L389.50,112.98 L390.00,114.01 L390.50,115.03 L391.00,116.04 L391.50,117.02 L392.00,117.97 L392.50,118.89 L393.00,119.76 L393.50,120.60 L394.00,121.40 L394.50,122.15 L395.00,122.86 L395.50,123.53 L396.00,124.17 L396.50,124.78 L397.00,125.35 L397.50,125.91 L398.00,126.44 L398.50,126.95 L399.00,127.45 L399.50,127.94 L400.00,128.42 L400.50,128.90 L401.00,129.37 L401.50,129.85 L402.00,130.32 L402.50,130.80 L403.00,131.28 L403.50,131.76 L404.00,132.24 L404.50,132.73 L405.00,133.23 L405.50,133.72 L406.00,134.22 L406.50,134.72 L407.00,135.22 L407.50,135.72 L408.00,136.22 L408.50,136.72 L409.00,137.22 L409.50,137.71 L410.00,138.20 L410.50,138.68 L411.00,139.15 L411.50,139.62 L412.00,140.08 L412.50,140.53 L413.00,140.97 L413.50,141.40 L414.00,141.82 L414.50,142.23 L415.00,142.63 L415.50,143.01 L416.00,143.38 L416.50,143.74 L417.00,144.08 L417.50,144.41 L418.00,144.73 L418.50,145.04 L419.00,145.33 L419.50,145.60 L420.00,145.86 L420.50,146.11 L421.00,146.35 L421.50,146.57 L422.00,146.77 L422.50,146.97 L423.00,147.15 L423.50,147.31 L424.00,147.47 L424.50,147.61 L425.00,147.73 L425.50,147.85 L426.00,147.95 L426.50,148.04 L427.00,148.11 L427.50,148.17 L428.00,148.22 L428.50,148.26 L429.00,148.28 L429.50,148.29 L430.00,148.28 L430.50,148.26 L431.00,148.22 L431.50,148.16 L432.00,148.09 L432.50,147.99 L433.00,147.88 L433.50,147.73 L434.00,147.56 L434.50,147.36 L435.00,147.13 L435.50,146.87 L436.00,146.56 L436.50,146.21 L437.00,145.81 L437.50,145.36 L438.00,144.86 L438.50,144.30 L439.00,143.68 L439.50,142.99 L440.00,142.23 L440.50,141.40 L441.00,140.50 L441.50,139.53 L442.00,138.49 L442.50,137.38 L443.00,136.20 L443.50,134.97 L444.00,133.68 L444.50,132.34 L445.00,130.97 L445.50,129.58 L446.00,128.18 L446.50,126.78 L447.00,125.39 L447.50,124.04 L448.00,122.74 L448.50,121.50 L449.00,120.34 L449.50,119.27 L450.00,118.30 L450.50,117.45 L451.00,116.73 L451.50,116.14 L452.00,115.68 L452.50,115.37 L453.00,115.20 L453.50,115.17 L454.00,115.27 L454.50,115.50 L455.00,115.85 L455.50,116.30 L456.00,116.85 L456.50,117.49 L457.00,118.20 L457.50,118.96 L458.00,119.77 L458.50,120.61 L459.00,121.46 L459.50,122.32 L460.00,123.18 L460.50,124.02 L461.00,124.84 L461.50,125.63 L462.00,126.39 L462.50,127.11 L463.00,127.80 L463.50,128.44 L464.00,129.05 L464.50,129.62 L465.00,130.15 L465.50,130.65 L466.00,131.12 L466.50,131.56 L467.00,131.98 L467.50,132.37 L468.00,132.75 L468.50,133.12 L469.00,133.47 L469.50,133.82 L470.00,134.17 L470.50,134.51 L471.00,134.84 L471.50,135.18 L472.00,135.52 L472.50,135.87 L473.00,136.22 L473.50,136.57 L474.00,136.92 L474.50,137.28 L475.00,137.64 L475.50,138.01 L476.00,138.37 L476.50,138.74 L477.00,139.12 L477.50,139.49 L478.00,139.86 L478.50,140.23 L479.00,140.60 L479.50,140.97 L480.00,141.33 L480.50,141.69 L481.00,142.05 L481.50,142.40 L482.00,142.74 L482.50,143.08 L483.00,143.41 L483.50,143.74 L484.00,144.05 L484.50,144.36 L485.00,144.66 L485.50,144.95 L486.00,145.23 L486.50,145.50 L487.00,145.76 L487.50,146.02 L488.00,146.26 L488.50,146.49 L489.00,146.71 L489.50,146.93 L490.00,147.13 L490.50,147.32 L491.00,147.51 L491.50,147.68 L492.00,147.85 L492.50,148.01 L493.00,148.16 L493.50,148.30 L494.00,148.43 L494.50,148.56 L495.00,148.67 L495.50,148.78 L496.00,148.89 L496.50,148.98 L497.00,149.07 L497.50,149.16 L498.00,149.23 L498.50,149.31 L499.00,149.37 L499.50,149.44 L500.00,149.49 L500.50,149.55 L501.00,149.60 L501.50,149.64 L502.00,149.68 L502.50,149.72 L503.00,149.76 L503.50,149.79 L504.00,149.82 L504.50,149.85 L505.00,149.87 L505.50,149.89 L506.00,149.91 L506.50,149.93 L507.00,149.95 L507.50,149.96 L508.00,149.98 L508.50,149.99 L509.00,150.00 L509.50,150.01 L510.00,150.02 L510.50,150.03 L511.00,150.03 L511.50,150.04 L512.00,150.05 L512.50,150.05 L513.00,150.06 L513.50,150.06 L514.00,150.06" fill="none" stroke="#4b45b0" stroke-width="1.40" stroke-linejoin="round" stroke-linecap="round"/>
<path d="M351.40,202.10 L351.40,201.79 L351.90,201.74 L352.40,201.68 L352.90,201.60 L353.40,201.52 L353.90,201.43 L354.40,201.32 L354.90,201.20 L355.40,201.06 L355.90,200.90 L356.40,200.73 L356.90,200.53 L357.40,200.31 L357.90,200.06 L358.40,199.79 L358.90,199.48 L359.40,199.15 L359.90,198.78 L360.40,198.38 L360.90,197.93 L361.40,197.45 L361.90,196.93 L362.40,196.36 L362.90,195.75 L363.40,195.10 L363.90,194.40 L364.40,193.65 L364.90,192.85 L365.40,192.01 L365.90,191.12 L366.40,190.18 L366.90,189.20 L367.40,188.18 L367.90,187.12 L368.40,186.03 L368.90,184.90 L369.40,183.74 L369.90,182.56 L370.40,181.36 L370.90,180.15 L371.40,178.93 L371.90,177.71 L372.40,176.50 L372.90,175.30 L373.40,174.13 L373.90,172.98 L374.40,171.87 L374.90,170.81 L375.40,169.79 L375.90,168.84 L376.40,167.95 L376.90,167.14 L377.40,166.41 L377.90,165.76 L378.40,165.20 L378.90,164.74 L379.40,164.37 L379.90,164.11 L380.40,163.95 L380.90,163.90 L381.40,163.95 L381.90,164.11 L382.40,164.37 L382.90,164.74 L383.40,165.20 L383.90,165.76 L384.40,166.41 L384.90,167.14 L385.40,167.95 L385.90,168.84 L386.40,169.79 L386.90,170.81 L387.40,171.87 L387.90,172.98 L388.40,174.13 L388.90,175.30 L389.40,176.50 L389.90,177.71 L390.40,178.93 L390.90,180.15 L391.40,181.36 L391.90,182.56 L392.40,183.74 L392.90,184.90 L393.40,186.03 L393.90,187.12 L394.40,188.18 L394.90,189.20 L395.40,190.18 L395.90,191.12 L396.40,192.01 L396.90,192.85 L397.40,193.65 L397.90,194.40 L398.40,195.10 L398.90,195.75 L399.40,196.36 L399.90,196.93 L400.40,197.45 L400.90,197.93 L401.40,198.38 L401.90,198.78 L402.40,199.15 L402.90,199.48 L403.40,199.79 L403.90,200.06 L404.40,200.31 L404.90,200.53 L405.40,200.73 L405.90,200.90 L406.40,201.06 L406.90,201.20 L407.40,201.32 L407.90,201.43 L408.40,201.52 L408.90,201.60 L409.40,201.68 L409.90,201.74 L410.40,201.79 L410.90,201.84 L411.40,201.88 L411.90,201.91 L412.40,201.94 L412.90,201.97 L413.40,201.99 L413.90,202.01 L414.40,202.02 L414.90,202.04 L415.40,202.05 L415.90,202.06 L416.40,202.06 L416.90,202.07 L417.40,202.08 L417.90,202.08 L418.40,202.08 L418.90,202.08 L419.40,202.09 L419.90,202.09 L420.40,202.09 L420.90,202.09 L421.40,202.08 L421.90,202.08 L422.40,202.08 L422.90,202.07 L423.40,202.06 L423.90,202.06 L424.40,202.04 L424.90,202.03 L425.40,202.01 L425.90,201.99 L426.40,201.96 L426.90,201.92 L427.40,201.88 L427.90,201.83 L428.40,201.77 L428.90,201.69 L429.40,201.60 L429.90,201.49 L430.40,201.36 L430.90,201.21 L431.40,201.04 L431.90,200.83 L432.40,200.60 L432.90,200.33 L433.40,200.01 L433.90,199.66 L434.40,199.26 L434.90,198.80 L435.40,198.30 L435.90,197.73 L436.40,197.11 L436.90,196.42 L437.40,195.67 L437.90,194.85 L438.40,193.97 L438.90,193.02 L439.40,192.01 L439.90,190.94 L440.40,189.81 L440.90,188.64 L441.40,187.42 L441.90,186.16 L442.40,184.88 L442.90,183.58 L443.40,182.27 L443.90,180.98 L444.40,179.70 L444.90,178.46 L445.40,177.27 L445.90,176.13 L446.40,175.08 L446.90,174.11 L447.40,173.24 L447.90,172.49 L448.40,171.86 L448.90,171.36 L449.40,170.99 L449.90,170.77 L450.40,170.70 L450.90,170.77 L451.40,170.99 L451.90,171.36 L452.40,171.86 L452.90,172.49 L453.40,173.24 L453.90,174.11 L454.40,175.08 L454.90,176.13 L455.40,177.27 L455.90,178.46 L456.40,179.70 L456.90,180.98 L457.40,182.27 L457.90,183.58 L458.40,184.88 L458.90,186.16 L459.40,187.42 L459.90,188.64 L460.40,189.81 L460.90,190.94 L461.40,192.01 L461.90,193.02 L462.40,193.97 L462.90,194.85 L463.40,195.67 L463.90,196.42 L464.40,197.11 L464.90,197.73 L465.40,198.30 L465.90,198.80 L466.40,199.26 L466.90,199.66 L467.40,200.01 L467.90,200.33 L468.40,200.60 L468.90,200.83 L469.40,201.04 L469.90,201.21 L470.40,201.36 L470.90,201.49 L471.40,201.60 L471.90,201.69 L472.40,201.77 L472.40,202.10Z" fill="#d4d4d4"/>
<path d="M350.40,202.10 L350.40,201.80 L350.90,201.77 L351.40,201.74 L351.90,201.71 L352.40,201.68 L352.90,201.65 L353.40,201.62 L353.90,201.58 L354.40,201.54 L354.90,201.50 L355.40,201.45 L355.90,201.40 L356.40,201.35 L356.90,201.30 L357.40,201.25 L357.90,201.19 L358.40,201.12 L358.90,201.06 L359.40,200.99 L359.90,200.92 L360.40,200.84 L360.90,200.76 L361.40,200.68 L361.90,200.59 L362.40,200.50 L362.90,200.41 L363.40,200.31 L363.90,200.21 L364.40,200.10 L364.90,199.99 L365.40,199.87 L365.90,199.75 L366.40,199.63 L366.90,199.50 L367.40,199.37 L367.90,199.24 L368.40,199.10 L368.90,198.96 L369.40,198.81 L369.90,198.66 L370.40,198.50 L370.90,198.35 L371.40,198.19 L371.90,198.02 L372.40,197.86 L372.90,197.69 L373.40,197.51 L373.90,197.34 L374.40,197.16 L374.90,196.98 L375.40,196.80 L375.90,196.62 L376.40,196.44 L376.90,196.26 L377.40,196.07 L377.90,195.89 L378.40,195.70 L378.90,195.52 L379.40,195.34 L379.90,195.16 L380.40,194.98 L380.90,194.80 L381.40,194.63 L381.90,194.46 L382.40,194.29 L382.90,194.13 L383.40,193.96 L383.90,193.81 L384.40,193.66 L384.90,193.51 L385.40,193.37 L385.90,193.24 L386.40,193.11 L386.90,192.98 L387.40,192.87 L387.90,192.76 L388.40,192.66 L388.90,192.57 L389.40,192.48 L389.90,192.40 L390.40,192.34 L390.90,192.27 L391.40,192.22 L391.90,192.18 L392.40,192.15 L392.90,192.12 L393.40,192.11 L393.90,192.10 L394.40,192.10 L394.90,192.11 L395.40,192.14 L395.90,192.17 L396.40,192.20 L396.90,192.25 L397.40,192.31 L397.90,192.37 L398.40,192.45 L398.90,192.53 L399.40,192.62 L399.90,192.72 L400.40,192.82 L400.90,192.93 L401.40,193.05 L401.90,193.18 L402.40,193.31 L402.90,193.45 L403.40,193.59 L403.90,193.74 L404.40,193.89 L404.90,194.05 L405.40,194.21 L405.90,194.38 L406.40,194.55 L406.90,194.72 L407.40,194.89 L407.90,195.07 L408.40,195.25 L408.90,195.43 L409.40,195.61 L409.90,195.79 L410.40,195.97 L410.90,196.15 L411.40,196.33 L411.90,196.51 L412.40,196.69 L412.90,196.86 L413.40,197.04 L413.90,197.21 L414.40,197.38 L414.90,197.55 L415.40,197.71 L415.90,197.87 L416.40,198.03 L416.90,198.18 L417.40,198.33 L417.90,198.48 L418.40,198.62 L418.90,198.75 L419.40,198.88 L419.90,199.01 L420.40,199.13 L420.90,199.25 L421.40,199.36 L421.90,199.46 L422.40,199.56 L422.90,199.66 L423.40,199.75 L423.90,199.83 L424.40,199.91 L424.90,199.98 L425.40,200.04 L425.90,200.10 L426.40,200.16 L426.90,200.21 L427.40,200.25 L427.90,200.28 L428.40,200.31 L428.90,200.34 L429.40,200.36 L429.90,200.37 L430.40,200.37 L430.90,200.37 L431.40,200.37 L431.90,200.36 L432.40,200.34 L432.90,200.32 L433.40,200.29 L433.90,200.25 L434.40,200.21 L434.90,200.17 L435.40,200.12 L435.90,200.06 L436.40,200.00 L436.90,199.93 L437.40,199.86 L437.90,199.78 L438.40,199.70 L438.90,199.61 L439.40,199.52 L439.90,199.42 L440.40,199.32 L440.90,199.22 L441.40,199.11 L441.90,199.00 L442.40,198.88 L442.90,198.76 L443.40,198.64 L443.90,198.52 L444.40,198.39 L444.90,198.26 L445.40,198.13 L445.90,197.99 L446.40,197.86 L446.90,197.72 L447.40,197.58 L447.90,197.44 L448.40,197.30 L448.90,197.16 L449.40,197.02 L449.90,196.89 L450.40,196.75 L450.90,196.61 L451.40,196.48 L451.90,196.34 L452.40,196.21 L452.90,196.08 L453.40,195.96 L453.90,195.83 L454.40,195.72 L454.90,195.60 L455.40,195.49 L455.90,195.38 L456.40,195.28 L456.90,195.19 L457.40,195.10 L457.90,195.01 L458.40,194.93 L458.90,194.86 L459.40,194.79 L459.90,194.73 L460.40,194.68 L460.90,194.63 L461.40,194.59 L461.90,194.56 L462.40,194.53 L462.90,194.51 L463.40,194.50 L463.90,194.50 L464.40,194.50 L464.90,194.51 L465.40,194.53 L465.90,194.56 L466.40,194.59 L466.90,194.63 L467.40,194.68 L467.90,194.73 L468.40,194.79 L468.90,194.86 L469.40,194.94 L469.90,195.02 L470.40,195.10 L470.90,195.19 L471.40,195.29 L471.90,195.39 L472.40,195.50 L472.90,195.61 L473.40,195.73 L473.90,195.85 L474.40,195.97 L474.90,196.10 L475.40,196.23 L475.90,196.36 L476.40,196.50 L476.90,196.64 L477.40,196.78 L477.90,196.92 L478.40,197.06 L478.90,197.20 L479.40,197.35 L479.90,197.49 L480.40,197.63 L480.90,197.78 L481.40,197.92 L481.90,198.06 L482.40,198.21 L482.90,198.35 L483.40,198.48 L483.90,198.62 L484.40,198.76 L484.90,198.89 L485.40,199.02 L485.90,199.15 L486.40,199.27 L486.90,199.40 L487.40,199.52 L487.90,199.63 L488.40,199.75 L488.90,199.86 L489.40,199.97 L489.90,200.07 L490.40,200.17 L490.90,200.27 L491.40,200.36 L491.90,200.46 L492.40,200.54 L492.90,200.63 L493.40,200.71 L493.90,200.79 L494.40,200.86 L494.90,200.94 L495.40,201.01 L495.90,201.07 L496.40,201.13 L496.90,201.19 L497.40,201.25 L497.90,201.31 L498.40,201.36 L498.90,201.41 L499.40,201.45 L499.90,201.50 L500.40,201.54 L500.90,201.58 L501.40,201.61 L501.90,201.65 L502.40,201.68 L502.90,201.71 L503.40,201.74 L503.90,201.77 L504.40,201.79 L504.40,202.10Z" fill="#a3a3a3"/>
<path d="M326.40,202.15 L327.10,202.19 L327.80,202.35 L328.50,202.03 L329.20,202.16 L329.90,202.24 L330.60,201.96 L331.30,201.91 L332.00,202.35 L332.70,202.21 L333.40,202.95 L334.10,203.09 L334.80,202.17 L335.50,202.24 L336.20,201.47 L336.90,201.70 L337.60,201.68 L338.30,201.71 L339.00,201.25 L339.70,201.92 L340.40,202.07 L341.10,201.79 L341.80,201.94 L342.50,202.31 L343.20,202.63 L343.90,201.73 L344.60,202.42 L345.30,201.49 L346.00,201.48 L346.70,201.58 L347.40,202.22 L348.10,202.05 L348.80,201.92 L349.50,202.14 L350.20,201.67 L350.90,201.20 L351.60,201.59 L352.30,201.00 L353.00,200.31 L353.70,199.76 L354.40,200.02 L355.10,200.43 L355.80,199.90 L356.50,199.20 L357.20,199.03 L357.90,197.68 L358.60,197.48 L359.30,196.61 L360.00,196.46 L360.70,195.07 L361.40,194.56 L362.10,193.51 L362.80,192.37 L363.50,191.43 L364.20,189.99 L364.90,189.15 L365.60,187.35 L366.30,185.11 L367.00,184.55 L367.70,183.21 L368.40,181.35 L369.10,179.87 L369.80,177.95 L370.50,175.60 L371.20,173.22 L371.90,171.58 L372.60,170.09 L373.30,168.68 L374.00,166.41 L374.70,164.74 L375.40,163.96 L376.10,161.95 L376.80,160.39 L377.50,158.98 L378.20,158.66 L378.90,157.63 L379.60,156.82 L380.30,156.41 L381.00,155.76 L381.70,155.52 L382.40,155.09 L383.10,155.21 L383.80,155.34 L384.50,155.68 L385.20,155.52 L385.90,156.26 L386.60,156.98 L387.30,157.74 L388.00,158.88 L388.70,160.63 L389.40,161.72 L390.10,162.67 L390.80,164.00 L391.50,165.76 L392.20,166.44 L392.90,168.25 L393.60,170.30 L394.30,172.06 L395.00,173.39 L395.70,174.76 L396.40,175.48 L397.10,177.13 L397.80,178.90 L398.50,180.60 L399.20,182.12 L399.90,182.63 L400.60,184.29 L401.30,185.95 L402.00,186.93 L402.70,188.21 L403.40,189.58 L404.10,190.63 L404.80,191.56 L405.50,192.64 L406.20,193.65 L406.90,194.00 L407.60,194.33 L408.30,194.97 L409.00,195.62 L409.70,196.31 L410.40,196.34 L411.10,196.86 L411.80,197.43 L412.50,198.33 L413.20,198.49 L413.90,198.45 L414.60,198.88 L415.30,198.85 L416.00,198.90 L416.70,199.21 L417.40,199.04 L418.10,198.89 L418.80,198.97 L419.50,198.47 L420.20,198.40 L420.90,197.51 L421.60,197.63 L422.30,198.11 L423.00,197.38 L423.70,197.02 L424.40,196.47 L425.10,195.78 L425.80,195.72 L426.50,195.14 L427.20,194.91 L427.90,193.73 L428.60,193.19 L429.30,192.39 L430.00,191.50 L430.70,191.21 L431.40,189.90 L432.10,188.86 L432.80,188.95 L433.50,187.41 L434.20,186.17 L434.90,185.27 L435.60,183.73 L436.30,182.93 L437.00,181.38 L437.70,180.33 L438.40,179.16 L439.10,178.63 L439.80,177.41 L440.50,176.64 L441.20,175.55 L441.90,173.66 L442.60,172.74 L443.30,171.41 L444.00,170.25 L444.70,169.86 L445.40,169.20 L446.10,168.01 L446.80,167.20 L447.50,166.49 L448.20,165.89 L448.90,165.39 L449.60,164.52 L450.30,164.60 L451.00,164.06 L451.70,163.67 L452.40,163.92 L453.10,164.22 L453.80,164.66 L454.50,164.86 L455.20,165.19 L455.90,165.33 L456.60,166.15 L457.30,166.82 L458.00,167.59 L458.70,168.07 L459.40,169.66 L460.10,170.51 L460.80,171.46 L461.50,172.30 L462.20,173.21 L462.90,174.69 L463.60,175.20 L464.30,176.48 L465.00,177.76 L465.70,179.27 L466.40,180.27 L467.10,181.98 L467.80,182.26 L468.50,184.26 L469.20,185.23 L469.90,186.50 L470.60,187.14 L471.30,188.57 L472.00,189.24 L472.70,190.30 L473.40,190.67 L474.10,192.06 L474.80,192.91 L475.50,193.03 L476.20,194.17 L476.90,194.91 L477.60,195.95 L478.30,196.18 L479.00,196.92 L479.70,197.85 L480.40,197.74 L481.10,198.92 L481.80,199.00 L482.50,199.11 L483.20,198.99 L483.90,199.02 L484.60,200.12 L485.30,200.15 L486.00,200.25 L486.70,200.97 L487.40,201.18 L488.10,201.16 L488.80,200.72 L489.50,200.51 L490.20,201.48 L490.90,201.51 L491.60,201.50 L492.30,202.27 L493.00,201.76 L493.70,201.91 L494.40,202.58 L495.10,202.30 L495.80,201.85 L496.50,201.64 L497.20,202.28 L497.90,201.67 L498.60,202.19 L499.30,202.61 L500.00,202.18 L500.70,202.36 L501.40,202.18 L502.10,202.57 L502.80,202.32 L503.50,201.92 L504.20,202.15 L504.90,202.16 L505.60,201.91 L506.30,201.96 L507.00,201.65 L507.70,201.68 L508.40,202.19 L509.10,201.51 L509.80,202.02 L510.50,202.08 L511.20,201.90 L511.90,202.51 L512.60,202.46 L513.30,202.01 L514.00,202.14 L514.70,202.42 L515.40,201.67 L516.10,202.05 L516.80,202.00 L517.50,202.21 L518.20,202.84 L518.90,202.11 L519.60,201.99 L520.30,201.67 L521.00,202.05 L521.70,202.29 L522.40,201.34 L523.10,202.37 L523.80,202.72 L524.50,201.40 L525.20,201.39 L525.90,202.05" fill="none" stroke="#d9423c" stroke-width="1.30" stroke-linejoin="round"/>
<path d="M341.50,202.05 L342.00,202.04 L342.50,202.03 L343.00,202.02 L343.50,202.00 L344.00,201.98 L344.50,201.97 L345.00,201.94 L345.50,201.92 L346.00,201.89 L346.50,201.85 L347.00,201.82 L347.50,201.77 L348.00,201.72 L348.50,201.67 L349.00,201.60 L349.50,201.53 L350.00,201.45 L350.50,201.36 L351.00,201.26 L351.50,201.14 L352.00,201.02 L352.50,200.88 L353.00,200.72 L353.50,200.54 L354.00,200.35 L354.50,200.14 L355.00,199.91 L355.50,199.65 L356.00,199.37 L356.50,199.06 L357.00,198.73 L357.50,198.36 L358.00,197.97 L358.50,197.54 L359.00,197.08 L359.50,196.58 L360.00,196.05 L360.50,195.47 L361.00,194.86 L361.50,194.21 L362.00,193.52 L362.50,192.78 L363.00,192.01 L363.50,191.19 L364.00,190.32 L364.50,189.42 L365.00,188.47 L365.50,187.48 L366.00,186.45 L366.50,185.39 L367.00,184.28 L367.50,183.14 L368.00,181.98 L368.50,180.78 L369.00,179.55 L369.50,178.31 L370.00,177.04 L370.50,175.77 L371.00,174.48 L371.50,173.19 L372.00,171.90 L372.50,170.61 L373.00,169.34 L373.50,168.09 L374.00,166.86 L374.50,165.66 L375.00,164.49 L375.50,163.36 L376.00,162.29 L376.50,161.26 L377.00,160.29 L377.50,159.39 L378.00,158.56 L378.50,157.80 L379.00,157.11 L379.50,156.51 L380.00,156.00 L380.50,155.57 L381.00,155.23 L381.50,154.99 L382.00,154.84 L382.50,154.79 L383.00,154.82 L383.50,154.92 L384.00,155.10 L384.50,155.35 L385.00,155.67 L385.50,156.06 L386.00,156.52 L386.50,157.04 L387.00,157.63 L387.50,158.28 L388.00,158.98 L388.50,159.74 L389.00,160.55 L389.50,161.41 L390.00,162.31 L390.50,163.25 L391.00,164.23 L391.50,165.24 L392.00,166.28 L392.50,167.34 L393.00,168.42 L393.50,169.52 L394.00,170.62 L394.50,171.74 L395.00,172.86 L395.50,173.98 L396.00,175.10 L396.50,176.21 L397.00,177.31 L397.50,178.40 L398.00,179.47 L398.50,180.52 L399.00,181.56 L399.50,182.57 L400.00,183.55 L400.50,184.51 L401.00,185.44 L401.50,186.34 L402.00,187.21 L402.50,188.05 L403.00,188.85 L403.50,189.62 L404.00,190.36 L404.50,191.07 L405.00,191.74 L405.50,192.37 L406.00,192.97 L406.50,193.54 L407.00,194.08 L407.50,194.58 L408.00,195.05 L408.50,195.49 L409.00,195.90 L409.50,196.27 L410.00,196.62 L410.50,196.94 L411.00,197.23 L411.50,197.50 L412.00,197.74 L412.50,197.95 L413.00,198.14 L413.50,198.30 L414.00,198.44 L414.50,198.56 L415.00,198.66 L415.50,198.73 L416.00,198.78 L416.50,198.81 L417.00,198.83 L417.50,198.82 L418.00,198.79 L418.50,198.74 L419.00,198.67 L419.50,198.58 L420.00,198.47 L420.50,198.34 L421.00,198.19 L421.50,198.02 L422.00,197.83 L422.50,197.62 L423.00,197.38 L423.50,197.13 L424.00,196.85 L424.50,196.55 L425.00,196.23 L425.50,195.89 L426.00,195.52 L426.50,195.13 L427.00,194.72 L427.50,194.28 L428.00,193.82 L428.50,193.34 L429.00,192.83 L429.50,192.30 L430.00,191.74 L430.50,191.16 L431.00,190.56 L431.50,189.93 L432.00,189.28 L432.50,188.61 L433.00,187.92 L433.50,187.20 L434.00,186.47 L434.50,185.72 L435.00,184.96 L435.50,184.18 L436.00,183.38 L436.50,182.58 L437.00,181.76 L437.50,180.93 L438.00,180.10 L438.50,179.27 L439.00,178.43 L439.50,177.59 L440.00,176.75 L440.50,175.92 L441.00,175.10 L441.50,174.29 L442.00,173.49 L442.50,172.71 L443.00,171.95 L443.50,171.21 L444.00,170.49 L444.50,169.79 L445.00,169.13 L445.50,168.50 L446.00,167.90 L446.50,167.34 L447.00,166.82 L447.50,166.34 L448.00,165.90 L448.50,165.50 L449.00,165.16 L449.50,164.86 L450.00,164.60 L450.50,164.40 L451.00,164.25 L451.50,164.15 L452.00,164.10 L452.50,164.11 L453.00,164.17 L453.50,164.27 L454.00,164.43 L454.50,164.65 L455.00,164.91 L455.50,165.22 L456.00,165.58 L456.50,165.98 L457.00,166.43 L457.50,166.93 L458.00,167.46 L458.50,168.04 L459.00,168.65 L459.50,169.29 L460.00,169.97 L460.50,170.67 L461.00,171.41 L461.50,172.17 L462.00,172.95 L462.50,173.75 L463.00,174.56 L463.50,175.39 L464.00,176.23 L464.50,177.08 L465.00,177.93 L465.50,178.79 L466.00,179.65 L466.50,180.50 L467.00,181.36 L467.50,182.20 L468.00,183.04 L468.50,183.87 L469.00,184.69 L469.50,185.49 L470.00,186.28 L470.50,187.05 L471.00,187.81 L471.50,188.54 L472.00,189.26 L472.50,189.95 L473.00,190.62 L473.50,191.27 L474.00,191.90 L474.50,192.51 L475.00,193.09 L475.50,193.65 L476.00,194.18 L476.50,194.69 L477.00,195.18 L477.50,195.64 L478.00,196.09 L478.50,196.51 L479.00,196.90 L479.50,197.28 L480.00,197.63 L480.50,197.97 L481.00,198.28 L481.50,198.58 L482.00,198.86 L482.50,199.12 L483.00,199.36 L483.50,199.58 L484.00,199.80 L484.50,199.99 L485.00,200.17 L485.50,200.34 L486.00,200.50 L486.50,200.64 L487.00,200.78 L487.50,200.90 L488.00,201.01 L488.50,201.12 L489.00,201.21 L489.50,201.30 L490.00,201.38 L490.50,201.45 L491.00,201.52 L491.50,201.58 L492.00,201.63 L492.50,201.68 L493.00,201.72 L493.50,201.77 L494.00,201.80 L494.50,201.83 L495.00,201.86 L495.50,201.89 L496.00,201.91 L496.50,201.94 L497.00,201.95 L497.50,201.97 L498.00,201.99 L498.50,202.00 L499.00,202.01 L499.50,202.02 L500.00,202.03 L500.50,202.04 L501.00,202.05 L501.50,202.06 L502.00,202.06 L502.50,202.07 L503.00,202.07 L503.50,202.07 L504.00,202.08 L504.50,202.08 L505.00,202.08 L505.50,202.09 L506.00,202.09 L506.50,202.09 L507.00,202.09 L507.50,202.09 L508.00,202.09 L508.50,202.09 L509.00,202.10 L509.50,202.10 L510.00,202.10 L510.50,202.10 L511.00,202.10 L511.50,202.10 L512.00,202.10 L512.50,202.10 L513.00,202.10 L513.50,202.10 L514.00,202.10" fill="none" stroke="#4b45b0" stroke-width="1.40" stroke-linejoin="round" stroke-linecap="round"/>
<path d="M380.80,41.00V180.00" stroke="#2a2a2a" stroke-width="1.10" stroke-dasharray="1.1,1.5" fill="none"/>
<path d="M403.60,77.80V94.00" stroke="#2a2a2a" stroke-width="1.10" stroke-dasharray="1.1,1.5" fill="none"/>
<path d="M394.00,113.60V141.50" stroke="#2a2a2a" stroke-width="1.10" stroke-dasharray="1.1,1.5" fill="none"/>
<path d="M392.60,158.80V200.10" stroke="#2a2a2a" stroke-width="1.10" stroke-dasharray="1.1,1.5" fill="none"/>
<text transform="translate(385.70,43.80) scale(1,1.045)" font-size="10.40" text-anchor="start" font-family="Liberation Sans, sans-serif" fill="#1a1a1a" stroke="#1a1a1a" stroke-width="0.18">PbS</text>
<text transform="translate(407.00,79.00) scale(1,1.045)" font-size="10.40" text-anchor="start" font-family="Liberation Sans, sans-serif" fill="#1a1a1a" stroke="#1a1a1a" stroke-width="0.18">Pb-I</text>
<text transform="translate(522.50,82.20) scale(1,1.045)" font-size="11.60" text-anchor="end" font-family="Liberation Sans, sans-serif" fill="#1a1a1a" stroke="#1a1a1a" stroke-width="0.18">PbS+I</text>
<text transform="translate(399.20,119.60) scale(1,1.045)" font-size="10.00" text-anchor="start" font-family="Liberation Sans, sans-serif" fill="#1a1a1a" stroke="#1a1a1a" stroke-width="0.18">Pb(OH)<tspan font-size="7.1" dy="1.9">2</tspan></text>
<text transform="translate(523.30,138.10) scale(1,1.045)" font-size="11.70" text-anchor="end" font-family="Liberation Sans, sans-serif" fill="#1a1a1a" stroke="#1a1a1a" stroke-width="0.18">MPA</text>
<text transform="translate(397.70,168.40) scale(1,1.045)" font-size="10.20" text-anchor="start" font-family="Liberation Sans, sans-serif" fill="#1a1a1a" stroke="#1a1a1a" stroke-width="0.18">PbSO<tspan font-size="7.2" dy="1.8">3</tspan></text>
<text transform="translate(523.30,190.50) scale(1,1.045)" font-size="11.50" text-anchor="end" font-family="Liberation Sans, sans-serif" fill="#1a1a1a" stroke="#1a1a1a" stroke-width="0.18">OAm</text>
<rect x="489.4" y="22.6" width="30.1" height="15.4" fill="none" stroke="#333333" stroke-width="1.1"/>
<text transform="translate(504.60,34.30) scale(1,1.045)" font-size="11.40" text-anchor="middle" font-family="Liberation Sans, sans-serif" fill="#1a1a1a" stroke="#1a1a1a" stroke-width="0.18">Pb 4f</text>
<text transform="translate(325.40,229.60) scale(1,1.045)" font-size="10.70" text-anchor="middle" font-family="Liberation Sans, sans-serif" fill="#1a1a1a" stroke="#1a1a1a" stroke-width="0.18">134</text>
<text transform="translate(354.20,229.60) scale(1,1.045)" font-size="10.70" text-anchor="middle" font-family="Liberation Sans, sans-serif" fill="#1a1a1a" stroke="#1a1a1a" stroke-width="0.18">136</text>
<text transform="translate(383.00,229.60) scale(1,1.045)" font-size="10.70" text-anchor="middle" font-family="Liberation Sans, sans-serif" fill="#1a1a1a" stroke="#1a1a1a" stroke-width="0.18">138</text>
<text transform="translate(411.80,229.60) scale(1,1.045)" font-size="10.70" text-anchor="middle" font-family="Liberation Sans, sans-serif" fill="#1a1a1a" stroke="#1a1a1a" stroke-width="0.18">140</text>
<text transform="translate(440.60,229.60) scale(1,1.045)" font-size="10.70" text-anchor="middle" font-family="Liberation Sans, sans-serif" fill="#1a1a1a" stroke="#1a1a1a" stroke-width="0.18">142</text>
<text transform="translate(469.40,229.60) scale(1,1.045)" font-size="10.70" text-anchor="middle" font-family="Liberation Sans, sans-serif" fill="#1a1a1a" stroke="#1a1a1a" stroke-width="0.18">144</text>
<text transform="translate(498.20,229.60) scale(1,1.045)" font-size="10.70" text-anchor="middle" font-family="Liberation Sans, sans-serif" fill="#1a1a1a" stroke="#1a1a1a" stroke-width="0.18">146</text>
<text transform="translate(527.00,229.60) scale(1,1.045)" font-size="10.70" text-anchor="middle" font-family="Liberation Sans, sans-serif" fill="#1a1a1a" stroke="#1a1a1a" stroke-width="0.18">148</text>
<text transform="translate(426.50,253.80) scale(1,1.045)" font-size="11.45" text-anchor="middle" font-family="Liberation Sans, sans-serif" fill="#1a1a1a" stroke="#1a1a1a" stroke-width="0.18">Binding energy (eV)</text>
<text transform="translate(309.10,111.60) rotate(-90) scale(1,1.045)" font-size="11.70" text-anchor="middle" font-family="Liberation Sans, sans-serif" fill="#1a1a1a" stroke="#1a1a1a" stroke-width="0.18">Intensity (a. u.)</text>
<text x="417.9" y="280.6" font-size="18.5" font-weight="bold" text-anchor="middle" font-family="Liberation Serif, serif" fill="#111">(b)</text>
<rect x="154.30" y="291.80" width="226.40" height="172.40" fill="none" stroke="#333333" stroke-width="1.40"/>
<path d="M199.58,291.80V301.30M199.58,464.20V454.70M244.86,291.80V301.30M244.86,464.20V454.70M290.14,291.80V301.30M290.14,464.20V454.70M335.42,291.80V301.30M335.42,464.20V454.70M163.36,291.80V296.60M163.36,464.20V459.40M172.41,291.80V296.60M172.41,464.20V459.40M181.47,291.80V296.60M181.47,464.20V459.40M190.52,291.80V296.60M190.52,464.20V459.40M208.64,291.80V296.60M208.64,464.20V459.40M217.69,291.80V296.60M217.69,464.20V459.40M226.75,291.80V296.60M226.75,464.20V459.40M235.80,291.80V296.60M235.80,464.20V459.40M253.92,291.80V296.60M253.92,464.20V459.40M262.97,291.80V296.60M262.97,464.20V459.40M272.03,291.80V296.60M272.03,464.20V459.40M281.08,291.80V296.60M281.08,464.20V459.40M299.20,291.80V296.60M299.20,464.20V459.40M308.25,291.80V296.60M308.25,464.20V459.40M317.31,291.80V296.60M317.31,464.20V459.40M326.36,291.80V296.60M326.36,464.20V459.40M344.48,291.80V296.60M344.48,464.20V459.40M353.53,291.80V296.60M353.53,464.20V459.40M362.59,291.80V296.60M362.59,464.20V459.40M371.64,291.80V296.60M371.64,464.20V459.40" stroke="#333333" stroke-width="1.20" fill="none"/>
<path d="M172.30,440.30 L172.30,439.93 L172.80,439.80 L173.30,439.63 L173.80,439.41 L174.30,439.13 L174.80,438.78 L175.30,438.34 L175.80,437.79 L176.30,437.10 L176.80,436.27 L177.30,435.26 L177.80,434.04 L178.30,432.60 L178.80,430.89 L179.30,428.90 L179.80,426.59 L180.30,423.95 L180.80,420.95 L181.30,417.59 L181.80,413.86 L182.30,409.75 L182.80,405.29 L183.30,400.50 L183.80,395.41 L184.30,390.06 L184.80,384.53 L185.30,378.89 L185.80,373.21 L186.30,367.58 L186.80,362.11 L187.30,356.89 L187.80,352.04 L188.30,347.64 L188.80,343.79 L189.30,340.59 L189.80,338.09 L190.30,336.37 L190.80,335.45 L191.30,335.37 L191.80,336.12 L192.30,337.68 L192.80,340.03 L193.30,343.10 L193.80,346.82 L194.30,351.12 L194.80,355.89 L195.30,361.04 L195.80,366.47 L196.30,372.07 L196.80,377.75 L197.30,383.41 L197.80,388.97 L198.30,394.36 L198.80,399.50 L199.30,404.36 L199.80,408.89 L200.30,413.07 L200.80,416.88 L201.30,420.31 L201.80,423.38 L202.30,426.09 L202.80,428.46 L203.30,430.51 L203.80,432.28 L204.30,433.77 L204.80,435.03 L205.30,436.08 L205.80,436.95 L206.30,437.66 L206.80,438.24 L207.30,438.70 L207.80,439.07 L208.30,439.36 L208.80,439.59 L209.30,439.77 L209.80,439.90 L210.30,440.01 L210.80,440.08 L211.30,440.14 L211.80,440.19 L212.30,440.22 L212.80,440.24 L213.30,440.26 L213.80,440.27 L214.30,440.28 L214.80,440.29 L215.30,440.29 L215.80,440.29 L216.30,440.30 L216.80,440.30 L217.30,440.30 L217.80,440.30 L218.30,440.30 L218.80,440.30 L219.30,440.30 L219.80,440.30 L220.30,440.30 L220.80,440.30 L221.30,440.30 L221.80,440.30 L222.30,440.30 L222.80,440.30 L223.30,440.30 L223.80,440.30 L224.30,440.30 L224.80,440.30 L225.30,440.30 L225.80,440.30 L226.30,440.30 L226.80,440.30 L227.30,440.30 L227.80,440.30 L228.30,440.30 L228.80,440.30 L229.30,440.30 L229.80,440.30 L230.30,440.30 L230.80,440.30 L231.30,440.30 L231.80,440.30 L232.30,440.30 L232.80,440.30 L233.30,440.30 L233.80,440.30 L234.30,440.30 L234.80,440.30 L235.30,440.30 L235.80,440.30 L236.30,440.30 L236.80,440.30 L237.30,440.30 L237.80,440.30 L238.30,440.30 L238.80,440.30 L239.30,440.30 L239.80,440.30 L240.30,440.30 L240.80,440.30 L241.30,440.30 L241.80,440.30 L242.30,440.30 L242.80,440.30 L243.30,440.30 L243.80,440.30 L244.30,440.30 L244.80,440.30 L245.30,440.30 L245.80,440.30 L246.30,440.30 L246.80,440.30 L247.30,440.30 L247.80,440.30 L248.30,440.30 L248.80,440.30 L249.30,440.30 L249.80,440.30 L250.30,440.30 L250.80,440.30 L251.30,440.30 L251.80,440.30 L252.30,440.30 L252.80,440.30 L253.30,440.30 L253.80,440.30 L254.30,440.30 L254.80,440.30 L255.30,440.30 L255.80,440.30 L256.30,440.30 L256.80,440.30 L257.30,440.30 L257.80,440.30 L258.30,440.30 L258.80,440.30 L259.30,440.30 L259.80,440.30 L260.30,440.30 L260.80,440.30 L261.30,440.30 L261.80,440.30 L262.30,440.30 L262.80,440.30 L263.30,440.30 L263.80,440.30 L264.30,440.30 L264.80,440.30 L265.30,440.30 L265.80,440.30 L266.30,440.30 L266.80,440.30 L267.30,440.30 L267.80,440.30 L268.30,440.30 L268.80,440.30 L269.30,440.30 L269.80,440.29 L270.30,440.29 L270.80,440.29 L271.30,440.28 L271.80,440.28 L272.30,440.27 L272.80,440.25 L273.30,440.24 L273.80,440.21 L274.30,440.18 L274.80,440.14 L275.30,440.08 L275.80,440.01 L276.30,439.92 L276.80,439.80 L277.30,439.64 L277.80,439.45 L278.30,439.21 L278.80,438.90 L279.30,438.53 L279.80,438.07 L280.30,437.52 L280.80,436.85 L281.30,436.06 L281.80,435.12 L282.30,434.02 L282.80,432.75 L283.30,431.28 L283.80,429.61 L284.30,427.72 L284.80,425.60 L285.30,423.26 L285.80,420.69 L286.30,417.90 L286.80,414.90 L287.30,411.72 L287.80,408.37 L288.30,404.89 L288.80,401.33 L289.30,397.73 L289.80,394.14 L290.30,390.61 L290.80,387.21 L291.30,384.00 L291.80,381.04 L292.30,378.39 L292.80,376.09 L293.30,374.20 L293.80,372.76 L294.30,371.80 L294.80,371.34 L295.30,371.39 L295.80,371.95 L296.30,373.01 L296.80,374.54 L297.30,376.52 L297.80,378.89 L298.30,381.61 L298.80,384.63 L299.30,387.88 L299.80,391.31 L300.30,394.85 L300.80,398.45 L301.30,402.05 L301.80,405.60 L302.30,409.05 L302.80,412.37 L303.30,415.52 L303.80,418.47 L304.30,421.22 L304.80,423.75 L305.30,426.04 L305.80,428.11 L306.30,429.96 L306.80,431.59 L307.30,433.02 L307.80,434.26 L308.30,435.32 L308.80,436.23 L309.30,437.00 L309.80,437.64 L310.30,438.17 L310.80,438.61 L311.30,438.97 L311.80,439.26 L312.30,439.49 L312.80,439.68 L313.30,439.82 L313.80,439.94 L313.80,440.30Z" fill="#c4907d"/>
<path d="M189.80,440.30 L189.80,439.93 L190.30,439.80 L190.80,439.65 L191.30,439.45 L191.80,439.21 L192.30,438.91 L192.80,438.55 L193.30,438.11 L193.80,437.58 L194.30,436.95 L194.80,436.23 L195.30,435.39 L195.80,434.43 L196.30,433.34 L196.80,432.14 L197.30,430.81 L197.80,429.37 L198.30,427.82 L198.80,426.19 L199.30,424.49 L199.80,422.75 L200.30,420.99 L200.80,419.26 L201.30,417.58 L201.80,415.99 L202.30,414.54 L202.80,413.24 L203.30,412.14 L203.80,411.27 L204.30,410.65 L204.80,410.29 L205.30,410.21 L205.80,410.40 L206.30,410.87 L206.80,411.59 L207.30,412.56 L207.80,413.74 L208.30,415.10 L208.80,416.61 L209.30,418.24 L209.80,419.95 L210.30,421.69 L210.80,423.45 L211.30,425.17 L211.80,426.85 L212.30,428.45 L212.80,429.96 L213.30,431.35 L213.80,432.63 L214.30,433.79 L214.80,434.82 L215.30,435.74 L215.80,436.53 L216.30,437.22 L216.80,437.80 L217.30,438.29 L217.80,438.70 L218.30,439.04 L218.80,439.32 L219.30,439.54 L219.80,439.72 L220.30,439.86 L220.80,439.97 L221.30,440.05 L221.80,440.12 L222.30,440.16 L222.80,440.20 L223.30,440.23 L223.80,440.25 L224.30,440.26 L224.80,440.28 L225.30,440.28 L225.80,440.29 L226.30,440.29 L226.80,440.29 L227.30,440.30 L227.80,440.30 L228.30,440.30 L228.80,440.30 L229.30,440.30 L229.80,440.30 L230.30,440.30 L230.80,440.30 L231.30,440.30 L231.80,440.30 L232.30,440.30 L232.80,440.30 L233.30,440.30 L233.80,440.30 L234.30,440.30 L234.80,440.30 L235.30,440.30 L235.80,440.30 L236.30,440.30 L236.80,440.30 L237.30,440.30 L237.80,440.30 L238.30,440.30 L238.80,440.30 L239.30,440.30 L239.80,440.30 L240.30,440.30 L240.80,440.30 L241.30,440.30 L241.80,440.30 L242.30,440.30 L242.80,440.30 L243.30,440.30 L243.80,440.30 L244.30,440.30 L244.80,440.30 L245.30,440.30 L245.80,440.30 L246.30,440.30 L246.80,440.30 L247.30,440.30 L247.80,440.30 L248.30,440.30 L248.80,440.30 L249.30,440.30 L249.80,440.30 L250.30,440.30 L250.80,440.30 L251.30,440.30 L251.80,440.30 L252.30,440.30 L252.80,440.30 L253.30,440.30 L253.80,440.30 L254.30,440.30 L254.80,440.30 L255.30,440.30 L255.80,440.30 L256.30,440.30 L256.80,440.30 L257.30,440.30 L257.80,440.30 L258.30,440.30 L258.80,440.30 L259.30,440.30 L259.80,440.30 L260.30,440.30 L260.80,440.30 L261.30,440.30 L261.80,440.30 L262.30,440.30 L262.80,440.30 L263.30,440.30 L263.80,440.30 L264.30,440.30 L264.80,440.30 L265.30,440.30 L265.80,440.30 L266.30,440.30 L266.80,440.30 L267.30,440.30 L267.80,440.30 L268.30,440.30 L268.80,440.30 L269.30,440.30 L269.80,440.30 L270.30,440.30 L270.80,440.30 L271.30,440.30 L271.80,440.30 L272.30,440.30 L272.80,440.30 L273.30,440.30 L273.80,440.30 L274.30,440.30 L274.80,440.30 L275.30,440.30 L275.80,440.30 L276.30,440.30 L276.80,440.30 L277.30,440.30 L277.80,440.30 L278.30,440.30 L278.80,440.30 L279.30,440.30 L279.80,440.30 L280.30,440.30 L280.80,440.30 L281.30,440.30 L281.80,440.30 L282.30,440.30 L282.80,440.30 L283.30,440.30 L283.80,440.30 L284.30,440.30 L284.80,440.30 L285.30,440.30 L285.80,440.30 L286.30,440.30 L286.80,440.30 L287.30,440.30 L287.80,440.30 L288.30,440.30 L288.80,440.30 L289.30,440.29 L289.80,440.29 L290.30,440.28 L290.80,440.28 L291.30,440.27 L291.80,440.25 L292.30,440.23 L292.80,440.21 L293.30,440.17 L293.80,440.12 L294.30,440.06 L294.80,439.98 L295.30,439.87 L295.80,439.74 L296.30,439.57 L296.80,439.36 L297.30,439.10 L297.80,438.79 L298.30,438.41 L298.80,437.97 L299.30,437.44 L299.80,436.83 L300.30,436.14 L300.80,435.35 L301.30,434.47 L301.80,433.51 L302.30,432.47 L302.80,431.35 L303.30,430.18 L303.80,428.97 L304.30,427.74 L304.80,426.52 L305.30,425.32 L305.80,424.19 L306.30,423.14 L306.80,422.21 L307.30,421.41 L307.80,420.78 L308.30,420.33 L308.80,420.06 L309.30,420.00 L309.80,420.15 L310.30,420.49 L310.80,421.01 L311.30,421.71 L311.80,422.57 L312.30,423.55 L312.80,424.64 L313.30,425.80 L313.80,427.00 L314.30,428.23 L314.80,429.46 L315.30,430.66 L315.80,431.81 L316.30,432.89 L316.80,433.91 L317.30,434.83 L317.80,435.68 L318.30,436.43 L318.80,437.09 L319.30,437.66 L319.80,438.15 L320.30,438.57 L320.80,438.92 L321.30,439.21 L321.80,439.45 L322.30,439.64 L322.80,439.80 L323.30,439.92 L323.30,440.30Z" fill="#b9b935"/>
<path d="M154.80,440.04 L155.40,441.42 L156.00,439.78 L156.60,441.52 L157.20,438.41 L157.80,440.19 L158.40,439.37 L159.00,439.20 L159.60,437.51 L160.20,438.97 L160.80,441.42 L161.40,439.21 L162.00,439.37 L162.60,439.82 L163.20,438.45 L163.80,439.75 L164.40,440.25 L165.00,439.22 L165.60,436.92 L166.20,440.75 L166.80,439.31 L167.40,438.86 L168.00,438.39 L168.60,437.68 L169.20,436.05 L169.80,437.68 L170.40,438.02 L171.00,438.98 L171.60,439.79 L172.20,436.76 L172.80,439.09 L173.40,437.30 L174.00,437.35 L174.60,434.86 L175.20,435.47 L175.80,432.81 L176.40,432.93 L177.00,428.70 L177.60,427.88 L178.20,425.52 L178.80,424.64 L179.40,422.73 L180.00,420.23 L180.60,416.25 L181.20,413.94 L181.80,409.17 L182.40,402.19 L183.00,398.14 L183.60,390.50 L184.20,384.79 L184.80,378.09 L185.40,371.46 L186.00,366.08 L186.60,356.70 L187.20,354.24 L187.80,345.46 L188.40,343.83 L189.00,339.04 L189.60,332.58 L190.20,331.57 L190.80,329.26 L191.40,327.79 L192.00,331.76 L192.60,334.25 L193.20,336.19 L193.80,340.85 L194.40,342.49 L195.00,345.20 L195.60,350.77 L196.20,352.23 L196.80,357.70 L197.40,362.22 L198.00,365.04 L198.60,368.54 L199.20,372.71 L199.80,376.12 L200.40,378.44 L201.00,378.06 L201.60,384.76 L202.20,387.34 L202.80,393.55 L203.40,395.31 L204.00,399.04 L204.60,402.76 L205.20,406.11 L205.80,406.48 L206.40,412.75 L207.00,414.30 L207.60,416.26 L208.20,416.56 L208.80,422.21 L209.40,423.08 L210.00,425.44 L210.60,425.50 L211.20,429.71 L211.80,431.07 L212.40,430.42 L213.00,434.04 L213.60,431.62 L214.20,434.54 L214.80,435.42 L215.40,436.23 L216.00,435.11 L216.60,435.84 L217.20,438.01 L217.80,438.78 L218.40,437.72 L219.00,437.48 L219.60,437.27 L220.20,439.71 L220.80,438.28 L221.40,437.64 L222.00,435.90 L222.60,435.88 L223.20,436.83 L223.80,435.95 L224.40,438.04 L225.00,438.65 L225.60,438.04 L226.20,438.86 L226.80,439.58 L227.40,437.72 L228.00,440.76 L228.60,436.93 L229.20,442.49 L229.80,439.07 L230.40,440.58 L231.00,440.40 L231.60,441.40 L232.20,440.18 L232.80,441.72 L233.40,439.33 L234.00,442.01 L234.60,441.15 L235.20,441.92 L235.80,442.92 L236.40,440.29 L237.00,440.71 L237.60,440.62 L238.20,441.48 L238.80,441.98 L239.40,442.80 L240.00,442.31 L240.60,441.78 L241.20,442.61 L241.80,443.37 L242.40,443.41 L243.00,444.85 L243.60,441.59 L244.20,442.19 L244.80,440.26 L245.40,440.78 L246.00,442.50 L246.60,443.55 L247.20,441.44 L247.80,442.31 L248.40,441.90 L249.00,442.34 L249.60,441.98 L250.20,440.99 L250.80,438.53 L251.40,439.05 L252.00,441.46 L252.60,441.16 L253.20,443.80 L253.80,441.54 L254.40,442.23 L255.00,439.60 L255.60,438.86 L256.20,440.70 L256.80,442.78 L257.40,441.40 L258.00,440.21 L258.60,440.87 L259.20,441.17 L259.80,440.92 L260.40,440.27 L261.00,438.73 L261.60,438.33 L262.20,438.99 L262.80,439.51 L263.40,438.01 L264.00,441.41 L264.60,440.59 L265.20,438.97 L265.80,440.30 L266.40,442.55 L267.00,440.04 L267.60,439.57 L268.20,440.46 L268.80,437.49 L269.40,437.98 L270.00,437.73 L270.60,439.56 L271.20,436.64 L271.80,438.66 L272.40,437.85 L273.00,437.88 L273.60,437.42 L274.20,439.80 L274.80,437.06 L275.40,436.06 L276.00,437.61 L276.60,436.49 L277.20,437.43 L277.80,436.52 L278.40,436.11 L279.00,435.59 L279.60,432.71 L280.20,431.10 L280.80,434.93 L281.40,430.12 L282.00,429.93 L282.60,426.17 L283.20,425.44 L283.80,423.80 L284.40,424.34 L285.00,420.62 L285.60,416.25 L286.20,413.25 L286.80,412.20 L287.40,409.76 L288.00,407.65 L288.60,404.17 L289.20,395.76 L289.80,392.70 L290.40,387.42 L291.00,385.16 L291.60,382.21 L292.20,375.23 L292.80,374.46 L293.40,371.24 L294.00,367.02 L294.60,364.29 L295.20,366.23 L295.80,364.88 L296.40,365.00 L297.00,368.52 L297.60,372.39 L298.20,374.80 L298.80,374.15 L299.40,377.25 L300.00,381.40 L300.60,385.22 L301.20,388.23 L301.80,389.23 L302.40,394.31 L303.00,396.51 L303.60,396.06 L304.20,398.39 L304.80,401.27 L305.40,401.24 L306.00,404.42 L306.60,406.28 L307.20,407.00 L307.80,409.66 L308.40,412.97 L309.00,411.76 L309.60,414.49 L310.20,415.19 L310.80,419.21 L311.40,420.76 L312.00,420.58 L312.60,420.87 L313.20,423.75 L313.80,424.25 L314.40,424.10 L315.00,425.68 L315.60,428.32 L316.20,432.90 L316.80,433.31 L317.40,434.65 L318.00,435.04 L318.60,436.27 L319.20,437.13 L319.80,434.40 L320.40,436.54 L321.00,437.22 L321.60,437.45 L322.20,437.65 L322.80,434.19 L323.40,437.30 L324.00,436.00 L324.60,438.90 L325.20,437.63 L325.80,437.88 L326.40,438.33 L327.00,436.01 L327.60,438.13 L328.20,437.18 L328.80,439.95 L329.40,438.58 L330.00,437.71 L330.60,440.66 L331.20,439.25 L331.80,438.27 L332.40,439.29 L333.00,439.41 L333.60,440.04 L334.20,438.63 L334.80,441.10 L335.40,440.59 L336.00,442.21 L336.60,441.16 L337.20,439.11 L337.80,441.41 L338.40,440.13 L339.00,440.43 L339.60,437.27 L340.20,438.34 L340.80,441.84 L341.40,442.04 L342.00,438.47 L342.60,440.58 L343.20,440.92 L343.80,442.11 L344.40,439.34 L345.00,438.10 L345.60,440.49 L346.20,439.62 L346.80,439.56 L347.40,439.15 L348.00,441.78 L348.60,439.50 L349.20,441.45 L349.80,441.28 L350.40,439.63 L351.00,441.43 L351.60,442.05 L352.20,440.97 L352.80,440.05 L353.40,441.14 L354.00,439.39 L354.60,440.68 L355.20,442.17 L355.80,438.75 L356.40,437.64 L357.00,440.65 L357.60,439.06 L358.20,439.35 L358.80,440.15 L359.40,439.29 L360.00,440.09 L360.60,438.81 L361.20,439.18 L361.80,439.79 L362.40,440.69 L363.00,439.59 L363.60,440.38 L364.20,440.84 L364.80,440.78 L365.40,439.99 L366.00,441.66 L366.60,439.29 L367.20,441.23 L367.80,441.46 L368.40,441.37 L369.00,439.59 L369.60,441.18 L370.20,440.82 L370.80,438.75 L371.40,439.46 L372.00,438.31 L372.60,440.27 L373.20,441.85 L373.80,441.50 L374.40,439.03 L375.00,438.65 L375.60,439.63 L376.20,439.82 L376.80,440.98 L377.40,439.82 L378.00,441.47 L378.60,439.64 L379.20,441.34 L379.80,438.47" fill="none" stroke="#dc2e2e" stroke-width="1.40" stroke-linejoin="round"/>
<path d="M154.80,439.91 L155.30,439.90 L155.80,439.89 L156.30,439.88 L156.80,439.87 L157.30,439.86 L157.80,439.85 L158.30,439.84 L158.80,439.84 L159.30,439.82 L159.80,439.81 L160.30,439.80 L160.80,439.79 L161.30,439.78 L161.80,439.77 L162.30,439.75 L162.80,439.74 L163.30,439.73 L163.80,439.71 L164.30,439.70 L164.80,439.68 L165.30,439.66 L165.80,439.64 L166.30,439.62 L166.80,439.60 L167.30,439.57 L167.80,439.55 L168.30,439.51 L168.80,439.47 L169.30,439.43 L169.80,439.37 L170.30,439.31 L170.80,439.23 L171.30,439.12 L171.80,439.00 L172.30,438.84 L172.80,438.64 L173.30,438.39 L173.80,438.08 L174.30,437.70 L174.80,437.22 L175.30,436.64 L175.80,435.92 L176.30,435.05 L176.80,434.01 L177.30,432.76 L177.80,431.28 L178.30,429.54 L178.80,427.52 L179.30,425.19 L179.80,422.53 L180.30,419.52 L180.80,416.16 L181.30,412.44 L181.80,408.37 L182.30,403.95 L182.80,399.23 L183.30,394.23 L183.80,389.01 L184.30,383.61 L184.80,378.12 L185.30,372.60 L185.80,367.15 L186.30,361.84 L186.80,356.76 L187.30,352.00 L187.80,347.63 L188.30,343.74 L188.80,340.37 L189.30,337.58 L189.80,335.40 L190.30,333.85 L190.80,332.93 L191.30,332.63 L191.80,332.91 L192.30,333.75 L192.80,335.09 L193.30,336.87 L193.80,339.03 L194.30,341.51 L194.80,344.24 L195.30,347.17 L195.80,350.24 L196.30,353.41 L196.80,356.62 L197.30,359.85 L197.80,363.07 L198.30,366.26 L198.80,369.40 L199.30,372.49 L199.80,375.52 L200.30,378.49 L200.80,381.40 L201.30,384.24 L201.80,387.03 L202.30,389.75 L202.80,392.42 L203.30,395.03 L203.80,397.59 L204.30,400.09 L204.80,402.53 L205.30,404.91 L205.80,407.23 L206.30,409.48 L206.80,411.66 L207.30,413.76 L207.80,415.78 L208.30,417.71 L208.80,419.55 L209.30,421.29 L209.80,422.94 L210.30,424.49 L210.80,425.94 L211.30,427.29 L211.80,428.54 L212.30,429.69 L212.80,430.75 L213.30,431.72 L213.80,432.60 L214.30,433.40 L214.80,434.12 L215.30,434.77 L215.80,435.34 L216.30,435.86 L216.80,436.31 L217.30,436.72 L217.80,437.07 L218.30,437.38 L218.80,437.66 L219.30,437.89 L219.80,438.10 L220.30,438.28 L220.80,438.44 L221.30,438.57 L221.80,438.69 L222.30,438.79 L222.80,438.88 L223.30,438.96 L223.80,439.02 L224.30,439.08 L224.80,439.13 L225.30,439.18 L225.80,439.22 L226.30,439.25 L226.80,439.28 L227.30,439.31 L227.80,439.33 L228.30,439.36 L228.80,439.38 L229.30,439.40 L229.80,439.41 L230.30,439.43 L230.80,439.44 L231.30,439.45 L231.80,439.47 L232.30,439.48 L232.80,439.49 L233.30,439.50 L233.80,439.51 L234.30,439.51 L234.80,439.52 L235.30,439.53 L235.80,439.53 L236.30,439.54 L236.80,439.54 L237.30,439.55 L237.80,439.55 L238.30,439.56 L238.80,439.56 L239.30,439.56 L239.80,439.57 L240.30,439.57 L240.80,439.57 L241.30,439.57 L241.80,439.57 L242.30,439.57 L242.80,439.57 L243.30,439.57 L243.80,439.57 L244.30,439.57 L244.80,439.56 L245.30,439.56 L245.80,439.56 L246.30,439.56 L246.80,439.55 L247.30,439.55 L247.80,439.54 L248.30,439.54 L248.80,439.53 L249.30,439.53 L249.80,439.52 L250.30,439.51 L250.80,439.51 L251.30,439.50 L251.80,439.49 L252.30,439.48 L252.80,439.47 L253.30,439.46 L253.80,439.45 L254.30,439.44 L254.80,439.43 L255.30,439.42 L255.80,439.41 L256.30,439.39 L256.80,439.38 L257.30,439.37 L257.80,439.35 L258.30,439.34 L258.80,439.32 L259.30,439.30 L259.80,439.28 L260.30,439.26 L260.80,439.24 L261.30,439.22 L261.80,439.20 L262.30,439.18 L262.80,439.15 L263.30,439.13 L263.80,439.10 L264.30,439.07 L264.80,439.04 L265.30,439.01 L265.80,438.98 L266.30,438.94 L266.80,438.91 L267.30,438.87 L267.80,438.83 L268.30,438.79 L268.80,438.74 L269.30,438.69 L269.80,438.64 L270.30,438.59 L270.80,438.53 L271.30,438.46 L271.80,438.40 L272.30,438.32 L272.80,438.24 L273.30,438.14 L273.80,438.04 L274.30,437.93 L274.80,437.79 L275.30,437.64 L275.80,437.47 L276.30,437.27 L276.80,437.04 L277.30,436.78 L277.80,436.46 L278.30,436.10 L278.80,435.68 L279.30,435.19 L279.80,434.62 L280.30,433.95 L280.80,433.19 L281.30,432.31 L281.80,431.31 L282.30,430.17 L282.80,428.87 L283.30,427.42 L283.80,425.79 L284.30,423.98 L284.80,421.99 L285.30,419.81 L285.80,417.44 L286.30,414.88 L286.80,412.15 L287.30,409.25 L287.80,406.20 L288.30,403.03 L288.80,399.76 L289.30,396.42 L289.80,393.06 L290.30,389.71 L290.80,386.41 L291.30,383.23 L291.80,380.22 L292.30,377.42 L292.80,374.90 L293.30,372.72 L293.80,370.91 L294.30,369.53 L294.80,368.61 L295.30,368.16 L295.80,368.18 L296.30,368.67 L296.80,369.58 L297.30,370.89 L297.80,372.53 L298.30,374.45 L298.80,376.58 L299.30,378.88 L299.80,381.27 L300.30,383.70 L300.80,386.13 L301.30,388.51 L301.80,390.80 L302.30,392.97 L302.80,395.01 L303.30,396.89 L303.80,398.62 L304.30,400.20 L304.80,401.64 L305.30,402.97 L305.80,404.21 L306.30,405.40 L306.80,406.57 L307.30,407.77 L307.80,409.01 L308.30,410.32 L308.80,411.70 L309.30,413.14 L309.80,414.63 L310.30,416.16 L310.80,417.70 L311.30,419.23 L311.80,420.72 L312.30,422.18 L312.80,423.57 L313.30,424.90 L313.80,426.15 L314.30,427.32 L314.80,428.42 L315.30,429.43 L315.80,430.36 L316.30,431.22 L316.80,432.00 L317.30,432.71 L317.80,433.36 L318.30,433.94 L318.80,434.46 L319.30,434.92 L319.80,435.34 L320.30,435.71 L320.80,436.04 L321.30,436.34 L321.80,436.60 L322.30,436.84 L322.80,437.05 L323.30,437.24 L323.80,437.41 L324.30,437.56 L324.80,437.70 L325.30,437.82 L325.80,437.94 L326.30,438.04 L326.80,438.14 L327.30,438.23 L327.80,438.31 L328.30,438.39 L328.80,438.46 L329.30,438.53 L329.80,438.60 L330.30,438.66 L330.80,438.71 L331.30,438.77 L331.80,438.82 L332.30,438.86 L332.80,438.91 L333.30,438.95 L333.80,439.00 L334.30,439.03 L334.80,439.07 L335.30,439.11 L335.80,439.14 L336.30,439.18 L336.80,439.21 L337.30,439.24 L337.80,439.27 L338.30,439.29 L338.80,439.32 L339.30,439.35 L339.80,439.37 L340.30,439.39 L340.80,439.42 L341.30,439.44 L341.80,439.46 L342.30,439.48 L342.80,439.50 L343.30,439.52 L343.80,439.53 L344.30,439.55 L344.80,439.57 L345.30,439.58 L345.80,439.60 L346.30,439.62 L346.80,439.63 L347.30,439.64 L347.80,439.66 L348.30,439.67 L348.80,439.68 L349.30,439.70 L349.80,439.71 L350.30,439.72 L350.80,439.73 L351.30,439.74 L351.80,439.75 L352.30,439.76 L352.80,439.77 L353.30,439.78 L353.80,439.79 L354.30,439.80 L354.80,439.81 L355.30,439.82 L355.80,439.83 L356.30,439.84 L356.80,439.84 L357.30,439.85 L357.80,439.86 L358.30,439.87 L358.80,439.87 L359.30,439.88 L359.80,439.89 L360.30,439.90 L360.80,439.90 L361.30,439.91 L361.80,439.91 L362.30,439.92 L362.80,439.93 L363.30,439.93 L363.80,439.94 L364.30,439.94 L364.80,439.95 L365.30,439.95 L365.80,439.96 L366.30,439.96 L366.80,439.97 L367.30,439.97 L367.80,439.98 L368.30,439.98 L368.80,439.99 L369.30,439.99 L369.80,440.00 L370.30,440.00 L370.80,440.00 L371.30,440.01 L371.80,440.01 L372.30,440.02 L372.80,440.02 L373.30,440.02 L373.80,440.03 L374.30,440.03 L374.80,440.03 L375.30,440.04 L375.80,440.04 L376.30,440.04 L376.80,440.05 L377.30,440.05 L377.80,440.05 L378.30,440.06 L378.80,440.06 L379.30,440.06 L379.80,440.07" fill="none" stroke="#4d4ab2" stroke-width="1.35" stroke-linejoin="round" stroke-linecap="round"/>
<path d="M191.40,320.20V390.20" stroke="#2a2a2a" stroke-width="1.10" stroke-dasharray="1.1,1.5" fill="none"/>
<path d="M205.00,385.60V424.20" stroke="#2a2a2a" stroke-width="1.10" stroke-dasharray="1.1,1.5" fill="none"/>
<text transform="translate(196.90,322.60) scale(1,1.045)" font-size="12.40" text-anchor="start" font-family="Liberation Sans, sans-serif" fill="#1a1a1a" stroke="#1a1a1a" stroke-width="0.18">Pb-I</text>
<text transform="translate(210.50,385.10) scale(1,1.045)" font-size="12.30" text-anchor="start" font-family="Liberation Sans, sans-serif" fill="#1a1a1a" stroke="#1a1a1a" stroke-width="0.18">IO<tspan font-size="8.6" dy="3.8">2</tspan><tspan font-size="7.6" dx="1.0" dy="-13.1" stroke-width="0.45">&#8211;</tspan></text>
<text transform="translate(375.50,432.90) scale(1,1.045)" font-size="14.20" text-anchor="end" font-family="Liberation Sans, sans-serif" fill="#1a1a1a" stroke="#1a1a1a" stroke-width="0.18">PbS+I</text>
<rect x="336.4" y="305.5" width="28.7" height="20.1" fill="none" stroke="#333333" stroke-width="1.1"/>
<text transform="translate(350.90,320.30) scale(1,1.045)" font-size="14.30" text-anchor="middle" font-family="Liberation Sans, sans-serif" fill="#1a1a1a" stroke="#1a1a1a" stroke-width="0.18">I 3d</text>
<text transform="translate(154.30,483.90) scale(1,1.045)" font-size="14.10" text-anchor="middle" font-family="Liberation Sans, sans-serif" fill="#1a1a1a" stroke="#1a1a1a" stroke-width="0.18">615</text>
<text transform="translate(199.58,483.90) scale(1,1.045)" font-size="14.10" text-anchor="middle" font-family="Liberation Sans, sans-serif" fill="#1a1a1a" stroke="#1a1a1a" stroke-width="0.18">620</text>
<text transform="translate(244.86,483.90) scale(1,1.045)" font-size="14.10" text-anchor="middle" font-family="Liberation Sans, sans-serif" fill="#1a1a1a" stroke="#1a1a1a" stroke-width="0.18">625</text>
<text transform="translate(290.14,483.90) scale(1,1.045)" font-size="14.10" text-anchor="middle" font-family="Liberation Sans, sans-serif" fill="#1a1a1a" stroke="#1a1a1a" stroke-width="0.18">630</text>
<text transform="translate(335.42,483.90) scale(1,1.045)" font-size="14.10" text-anchor="middle" font-family="Liberation Sans, sans-serif" fill="#1a1a1a" stroke="#1a1a1a" stroke-width="0.18">635</text>
<text transform="translate(380.70,483.90) scale(1,1.045)" font-size="14.10" text-anchor="middle" font-family="Liberation Sans, sans-serif" fill="#1a1a1a" stroke="#1a1a1a" stroke-width="0.18">640</text>
<text transform="translate(266.90,514.10) scale(1,1.045)" font-size="14.50" text-anchor="middle" font-family="Liberation Sans, sans-serif" fill="#1a1a1a" stroke="#1a1a1a" stroke-width="0.18">Binding energy (eV)</text>
<text transform="translate(134.60,377.00) rotate(-90) scale(1,1.045)" font-size="14.50" text-anchor="middle" font-family="Liberation Sans, sans-serif" fill="#1a1a1a" stroke="#1a1a1a" stroke-width="0.18">Intensity (a. u.)</text>
<text x="256.3" y="542" font-size="19" font-weight="bold" text-anchor="middle" font-family="Liberation Serif, serif" fill="#111">(c)</text>
</svg>
</body></html>
